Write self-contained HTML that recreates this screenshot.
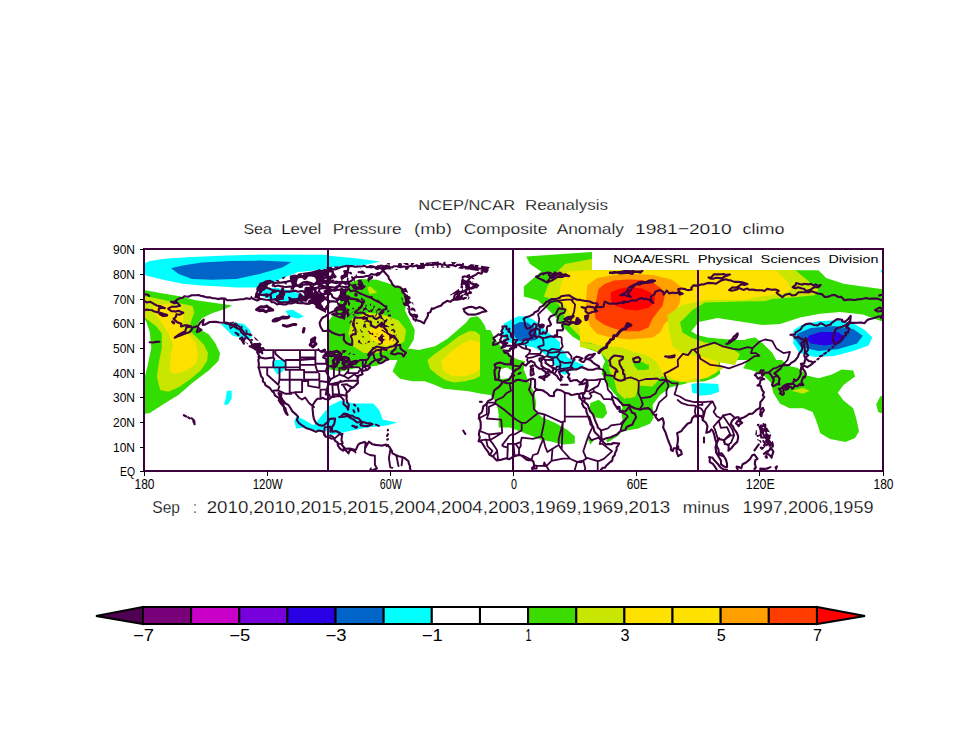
<!DOCTYPE html><html><head><meta charset="utf-8"><style>html,body{margin:0;padding:0;background:#fff;width:960px;height:742px;overflow:hidden}svg{display:block}text{font-family:"Liberation Sans",sans-serif;fill:#000}text.e{stroke:#fff;stroke-width:0.25px}</style></head><body>
<svg width="960" height="742" viewBox="0 0 960 742">
<rect width="960" height="742" fill="#fff"/>
<clipPath id="mc"><rect x="144" y="249" width="739" height="222"/></clipPath><g clip-path="url(#mc)">
<polygon points="144.0,263.5 149.8,260.9 167.1,258.6 192.2,257.1 221.1,255.7 251.9,254.8 278.9,254.4 307.8,254.8 329.0,254.8 329.0,255.7 357.9,258.6 380.1,261.5 367.5,264.4 348.3,266.3 329.0,267.3 329.0,268.3 317.4,270.2 298.2,272.1 278.9,279.8 267.3,285.6 255.8,287.5 236.5,287.5 221.1,286.6 201.8,285.6 182.5,283.7 163.3,279.8 144.0,275.0" fill="#00ffff"/>
<polygon points="171.0,268.3 182.5,265.4 201.8,262.5 230.7,260.9 259.6,260.6 291.4,262.1 282.8,267.3 259.6,274.1 236.5,278.9 211.5,279.8 192.2,278.9 178.7,274.1" fill="#0064c8"/>
<polygon points="257.7,290.4 275.0,287.5 290.5,290.4 304.0,295.3 302.0,302.0 286.6,303.0 269.3,299.1 259.6,295.3" fill="#00ffff"/>
<polygon points="285.6,310.7 292.4,309.7 304.0,316.5 298.2,318.4 288.5,316.5" fill="#00ffff"/>
<polygon points="221.1,324.2 234.6,322.2 244.2,324.2 250.0,329.9 251.9,337.6 246.1,339.6 240.4,337.6 232.6,335.7 226.9,329.9" fill="#00ffff"/>
<polygon points="275.0,360.0 282.8,360.0 285.6,365.8 282.8,371.6 277.0,374.5 273.1,367.7" fill="#00ffff"/>
<polygon points="226.9,390.8 231.7,390.8 231.7,398.5 227.8,404.7 224.0,404.7 225.9,397.6" fill="#00ffff"/>
<polygon points="296.2,415.9 304.0,419.7 313.6,425.5 321.3,415.9 326.1,410.1 329.0,410.1 329.0,431.3 317.4,431.3 305.9,427.5 296.2,428.4 294.3,421.7" fill="#00ffff"/>
<polygon points="144.0,290.0 160.2,292.9 179.6,296.2 195.8,300.2 213.6,302.7 232.2,305.6 224.9,309.1 212.0,313.2 202.3,318.0 197.4,324.5 199.8,329.4 208.7,334.2 215.2,343.1 220.1,353.6 218.4,360.9 208.7,370.6 192.2,383.1 178.7,394.7 163.3,404.3 149.8,413.0 144.0,414.0 144.0,380.3 148.0,364.1 151.3,348.0 149.7,331.8 146.4,322.1 144.0,318.0" fill="#33dd00"/>
<polygon points="144.0,296.2 153.7,297.8 168.3,301.0 184.5,304.3 192.5,305.9 194.2,312.4 190.9,322.1 189.3,330.2 195.8,336.6 203.9,344.7 207.9,352.8 207.1,360.9 200.6,370.6 190.9,378.7 179.6,386.8 168.3,391.7 160.2,390.0 156.9,377.1 158.6,364.1 161.8,348.0 161.8,333.4 156.9,326.9 150.5,322.1 144.0,317.2" fill="#c8e600"/>
<polygon points="153.7,304.3 168.3,304.3 179.6,306.7 184.5,312.4 182.8,322.1 181.2,326.9 187.7,333.4 195.8,343.1 198.2,354.4 195.8,364.1 186.1,370.6 174.7,373.9 169.9,370.6 170.7,356.1 173.1,344.7 168.3,333.4 160.2,320.5 153.7,312.4" fill="#ffe100"/>
<polygon points="350.2,282.7 359.8,278.9 377.2,279.8 392.6,284.7 402.2,289.5 406.1,299.1 405.1,310.7 409.9,320.3 414.8,329.9 413.8,339.6 408.0,349.2 404.2,360.0 386.8,360.0 377.2,365.8 357.9,367.7 340.6,371.6 329.0,369.6 329.0,333.8 329.0,320.3 336.7,310.7 340.6,299.1 346.3,287.5" fill="#33dd00"/>
<polygon points="352.1,318.4 367.5,312.6 383.0,314.5 398.4,320.3 406.1,329.9 404.2,341.5 392.6,349.2 377.2,353.1 363.7,353.1 352.1,345.4 348.3,333.8" fill="#c8e600"/>
<polygon points="367.5,287.5 370.4,286.6 377.2,292.4 369.5,294.3" fill="#c8e600"/>
<polygon points="367.5,329.9 379.1,326.1 388.7,329.9 395.5,336.7 394.5,343.4 386.8,345.4 379.1,343.4 371.4,339.6" fill="#ffe100"/>
<polygon points="400.0,351.2 410.0,348.8 418.8,350.0 435.0,346.2 447.5,338.8 456.2,331.2 466.2,322.5 470.0,317.5 477.5,316.2 481.2,320.0 485.0,326.2 487.5,335.0 492.5,345.0 500.0,352.5 508.8,357.5 520.0,360.0 525.0,361.2 514.0,427.5 498.6,427.5 498.6,414.0 496.7,402.4 492.8,394.7 490.0,395.0 481.2,393.8 468.8,391.2 456.2,390.0 443.8,388.8 435.0,385.0 425.0,381.2 412.5,381.2 400.0,378.8 392.6,371.6 397.4,360.0 396.0,351.0" fill="#33dd00"/>
<polygon points="427.5,360.0 435.0,353.8 447.5,345.0 458.8,336.2 468.8,331.2 475.0,331.2 485.0,338.8 492.5,350.0 493.8,358.8 490.0,367.5 485.0,373.8 475.0,378.8 465.0,381.2 453.8,382.5 445.0,380.0 437.5,375.0 430.0,368.8" fill="#c8e600"/>
<polygon points="441.2,361.2 450.0,352.5 460.0,345.0 470.0,340.0 477.5,341.2 485.0,347.5 487.5,356.2 483.8,366.2 475.0,372.5 465.0,376.2 452.5,376.2 443.8,371.2" fill="#ffe100"/>
<polygon points="506.3,322.2 514.0,320.3 514.0,337.6 508.2,335.7 504.4,329.9" fill="#00ffff"/>
<polygon points="329.0,406.3 340.6,400.5 354.1,403.4 373.3,403.4 379.1,410.1 383.0,419.7 397.4,422.6 386.8,425.5 367.5,427.5 348.3,431.3 340.6,433.2 329.0,435.2" fill="#00ffff"/>
<polygon points="480.0,330.0 490.4,330.0 494.6,338.3 502.9,348.8 513.3,357.1 519.6,361.2 523.8,369.6 527.9,380.0 534.2,392.5 536.2,402.9 535.2,411.2 542.5,417.5 555.0,422.7 567.5,430.0 574.8,436.2 574.8,443.5 563.3,444.6 550.8,441.5 540.4,439.4 530.0,435.2 521.7,432.1 511.2,427.9 500.8,421.7 498.8,411.2 496.7,402.9 490.4,394.6 480.0,392.5" fill="#33dd00"/>
<polygon points="498.8,369.6 507.1,367.5 513.3,371.7 511.2,377.9 500.8,379.0" fill="#ffffff"/>
<polygon points="526.2,256.5 591.2,252.0 720.0,252.0 720.0,419.0 720.0,419.0 652.9,417.5 638.3,409.2 623.8,402.9 613.3,392.5 605.0,382.1 601.9,371.7 605.0,361.2 600.0,351.5 585.0,344.0 572.5,336.5 562.5,326.5 555.0,316.5 547.5,309.0 537.5,300.2 523.8,296.5 523.8,286.5 532.5,279.0 541.2,271.5 530.0,264.0" fill="#33dd00"/>
<polygon points="699.0,270.2 818.5,270.2 826.2,277.9 843.5,283.7 862.8,286.6 884.0,289.5 884.0,360.0 699.0,360.0" fill="#33dd00"/>
<polygon points="580.0,346.3 590.8,349.7 601.6,353.7 607.0,359.1 602.9,365.8 601.6,373.9 605.6,379.3 611.0,387.4 616.4,395.5 620.4,403.6 624.5,411.7 627.2,420.0 647.4,420.0 650.1,414.4 655.5,403.6 660.9,395.5 666.3,392.8 671.7,395.5 677.1,392.8 681.1,380.7 700.0,379.3 700.0,320.0 580.0,320.0" fill="#33dd00"/>
<polygon points="565.0,264.0 591.2,259.0 795.4,270.2 806.9,279.8 818.5,289.5 814.6,295.3 795.4,297.2 772.2,299.1 751.0,304.9 737.5,310.7 718.3,310.7 699.0,312.6 720.0,366.5 724.1,367.7 714.4,373.5 699.0,377.3 697.5,389.0 666.2,371.6 660.5,377.3 648.9,379.3 639.3,385.1 635.4,396.6 629.6,398.5 623.8,392.8 616.1,381.2 614.2,369.6 618.1,360.0 615.0,354.0 605.0,349.0 592.5,344.0 580.0,336.5 570.0,326.5 565.0,319.0 562.5,309.0 555.0,300.2 543.8,296.5 547.5,286.5 555.0,274.0" fill="#c8e600"/>
<polygon points="567.5,271.5 591.2,270.2 776.1,270.2 787.6,281.8 791.5,289.5 783.8,293.3 756.8,297.2 737.5,301.0 718.3,304.9 699.0,306.8 695.0,310.0 682.5,320.0 675.0,330.0 672.5,342.5 682.5,350.0 695.0,350.0 707.5,360.0 717.5,362.5 715.0,372.5 705.0,375.0 695.0,376.2 682.5,377.5 670.0,380.0 660.0,375.0 650.0,372.5 642.5,367.5 637.5,360.0 627.5,352.5 615.0,350.0 600.0,350.0 590.0,336.5 580.0,329.0 572.5,319.0 567.5,309.0 560.0,299.0 560.0,289.0 562.5,279.0" fill="#ffe100"/>
<polygon points="580.0,341.6 593.5,344.3 608.3,346.3 620.4,347.0 631.2,351.0 644.7,354.4 655.5,360.4 660.9,369.9 666.3,375.3 674.4,378.0 685.2,378.0 700.0,373.9 700.0,381.3 681.7,381.2 669.1,380.1 662.9,375.0 658.7,380.1 652.5,386.5 638.9,385.4 631.6,385.4 629.6,396.9 624.4,399.0 617.1,391.7 614.0,379.2 609.7,371.2 608.3,360.4 601.6,353.7 590.8,349.0 580.0,347.0" fill="#c8e600"/>
<polygon points="580.0,325.4 580.0,341.6 593.5,343.6 607.0,344.9 620.4,344.3 633.9,347.0 644.2,351.7 654.6,357.1 658.7,364.5 662.9,373.9 667.6,376.0 677.1,376.6 687.9,376.0 700.0,371.2 700.0,342.9 686.5,340.2 674.4,337.5 666.3,333.5 663.6,325.4 660.9,320.0 593.5,320.0" fill="#ffe100"/>
<polygon points="627.2,355.1 638.0,353.0 647.4,356.4 651.5,364.5 647.4,371.2 639.3,373.9 629.9,369.9 625.8,361.8" fill="#c8e600"/>
<polygon points="633.9,360.4 642.0,361.8 648.8,365.8 646.1,369.9 638.0,369.9 633.9,365.8" fill="#33dd00"/>
<polygon points="697.5,350.0 712.5,352.5 718.8,362.5 716.2,372.5 707.5,377.5 697.5,380.0 695.0,375.0" fill="#ffe100"/>
<polygon points="699.0,360.0 699.0,375.4 695.2,378.3 681.7,382.2 672.0,379.3 668.2,369.6 664.3,360.0" fill="#ffe100"/>
<polygon points="587.2,285.6 596.9,277.9 614.2,275.0 633.5,274.1 652.8,275.0 672.0,279.8 681.7,287.5 679.7,303.0 672.0,316.5 664.3,324.2 660.5,331.9 652.8,337.6 629.6,339.6 610.4,337.6 596.9,333.8 590.1,326.1 585.3,312.6 586.3,297.2" fill="#ffa000"/>
<polygon points="598.5,288.9 604.2,284.2 613.6,280.4 627.7,279.4 641.9,279.9 654.2,283.2 661.7,288.9 664.5,296.4 662.6,305.8 657.9,311.5 652.3,319.1 648.5,327.5 639.1,331.3 625.8,331.3 613.6,328.5 604.2,324.7 595.7,319.1 594.2,310.6 596.6,298.3" fill="#ff3c00"/>
<polygon points="610.8,292.6 618.3,288.9 629.6,287.0 641.9,288.4 650.4,292.6 655.1,297.4 654.2,303.0 648.5,307.7 637.2,310.6 625.8,309.6 616.4,305.8 610.8,300.2" fill="#ff0000"/>
<polygon points="667.5,315.0 682.5,305.0 705.0,300.0 755.0,300.0 750.0,310.0 720.0,315.0 705.0,322.5 698.8,332.5 707.5,340.0 725.0,345.0 740.0,353.8 735.0,365.0 720.0,362.5 705.0,357.5 682.5,353.8 672.5,346.2 668.8,330.0" fill="#c8e600"/>
<polygon points="680.0,322.5 692.5,310.0 705.0,302.5 750.0,301.2 840.0,301.2 840.0,312.0 862.8,314.5 884.0,322.2 884.0,395.0 884.0,375.0 740.0,375.0 747.5,360.0 735.0,350.0 720.0,345.0 705.0,342.5 691.2,337.5 682.5,332.5" fill="#33dd00"/>
<polygon points="691.2,331.2 698.8,322.0 717.5,318.0 740.0,321.5 762.5,325.0 780.0,324.0 800.0,317.5 820.0,313.8 840.0,312.0 862.8,314.5 884.0,322.2 884.0,380.0 853.2,370.6 841.6,369.6 832.0,374.5 818.5,378.3 806.9,375.4 803.1,371.6 797.3,367.7 787.6,365.8 781.9,360.0 776.1,360.0 772.2,353.1 762.6,343.4 754.9,337.6 745.3,339.6 747.5,340.0 735.0,340.0 720.0,338.8 707.5,337.5 697.5,335.0" fill="#ffffff"/>
<polygon points="600.0,471.0 600.0,440.0 610.0,440.0 627.5,430.0 650.0,425.0 653.8,415.0 652.5,405.0 660.0,395.0 670.0,387.5 680.0,385.0 690.0,382.5 705.0,381.2 715.0,377.5 725.0,370.0 735.0,366.2 753.0,370.6 781.9,360.0 884.0,360.0 884.0,471.0" fill="#ffffff"/>
<polygon points="590.4,402.9 598.8,399.8 605.0,405.0 607.1,413.3 602.9,418.5 595.6,417.5 589.4,411.2" fill="#33dd00"/>
<polygon points="587.3,438.3 594.6,439.4 590.4,444.6" fill="#33dd00"/>
<polygon points="621.2,409.0 628.8,405.0 642.5,408.8 653.8,417.5 650.0,423.8 637.5,428.8 622.5,431.2 617.5,436.2 607.5,442.5 606.2,440.0 615.4,434.2 621.2,430.0 622.5,420.0" fill="#33dd00"/>
<polygon points="635.4,363.9 648.9,364.8 648.9,369.6 637.3,369.6" fill="#33dd00"/>
<polygon points="691.3,384.1 697.1,383.1 697.1,393.7 692.3,392.8" fill="#00ffff"/>
<polygon points="880.2,265.4 884.0,264.4 884.0,276.0 881.1,272.1" fill="#00ffff"/>
<polygon points="699.0,383.1 718.3,384.1 719.2,391.8 710.6,394.7 699.0,395.7" fill="#00ffff"/>
<polygon points="793.4,329.9 803.1,324.2 818.5,321.3 837.8,320.3 853.2,323.2 864.7,329.9 872.4,337.6 868.6,345.4 853.2,351.1 833.9,356.0 814.6,356.9 799.2,353.1 793.4,343.4" fill="#00ffff"/>
<polygon points="797.3,333.8 810.8,328.0 833.9,326.1 853.2,329.0 862.8,335.7 857.0,343.4 837.8,349.2 818.5,351.1 801.1,347.3 795.4,339.6" fill="#0064c8"/>
<polygon points="808.8,335.7 820.4,331.9 837.8,331.9 845.5,337.6 839.7,343.4 824.3,345.4 810.8,343.4 806.9,339.6" fill="#2800e6"/>
<polygon points="745.3,339.6 754.9,337.6 762.6,343.4 772.2,353.1 776.1,360.0 781.9,360.0 787.6,365.8 797.3,367.7 803.1,371.6 806.9,375.4 818.5,378.3 832.0,374.5 841.6,369.6 853.2,370.6 855.1,376.4 843.5,385.1 837.8,392.8 843.5,400.5 853.2,408.2 856.1,417.8 859.0,431.3 855.1,438.0 845.5,441.9 830.0,439.0 820.4,433.2 816.6,421.7 812.7,412.0 803.1,408.2 789.6,408.2 779.9,403.4 773.2,392.8 771.3,383.1 762.6,374.5 753.0,370.6 751.0,363.9 753.0,360.0 743.3,360.0 745.3,349.2" fill="#33dd00"/>
<polygon points="791.5,390.8 803.1,387.9 809.8,390.8 803.1,393.7" fill="#c8e600"/>
<polygon points="880.2,396.6 884.0,394.7 884.0,414.0 878.2,412.0 876.3,404.3" fill="#33dd00"/>
<polygon points="503.8,323.8 512.5,318.8 518.8,316.2 526.2,316.2 533.8,320.0 540.0,325.0 546.2,331.2 555.0,337.5 560.0,342.5 560.0,347.5 565.0,352.5 567.5,357.5 577.5,362.5 583.8,365.0 582.5,368.8 571.2,370.0 565.0,375.0 560.0,372.5 555.0,365.0 550.0,358.8 542.5,352.5 533.8,347.5 527.5,346.2 520.0,345.0 513.8,343.8 506.2,341.2 502.5,335.0" fill="#00ffff"/>
<polygon points="513.8,325.0 520.0,321.9 527.5,322.5 533.8,327.5 537.5,335.0 536.2,340.0 527.5,341.2 520.0,341.2 515.0,337.5 513.1,331.2" fill="#0064c8"/>
<path d="M252.2 297.5 251.8 295.8 250.0 297.0Z M266.2 293.2 265.2 294.5 265.0 296.0 265.8 297.8 267.2 297.8 268.2 296.8 268.8 294.5 267.8 293.2Z M283.5 287.2 282.5 287.2 281.5 288.0 281.0 289.8 279.5 291.8 278.5 294.5 276.2 295.8 276.0 297.8 275.2 298.8 274.0 299.5 275.5 301.2 278.5 301.5 279.8 300.0 283.2 299.8 284.2 299.0 283.8 297.0 285.2 294.8 285.2 293.2 284.0 291.0 284.2 288.2Z M305.8 283.2 305.5 284.5 307.0 285.2 307.5 284.8 307.2 283.8Z M284.0 282.8 284.0 283.2 285.8 284.5 287.2 284.2 287.0 283.5 285.8 283.2 284.8 282.5Z M276.5 280.0 276.0 280.5 276.2 281.0 278.0 281.8 279.5 283.8 279.8 282.2 279.0 280.5 278.2 280.0Z M270.8 280.0 265.8 281.0 265.5 282.5 265.0 283.0 263.8 283.0 262.8 282.0 259.8 282.8 256.2 289.5 257.8 290.2 259.0 291.5 259.2 292.5 258.2 293.2 255.5 293.2 254.2 298.0 260.8 299.5 259.8 296.8 260.0 295.0 261.5 293.2 262.5 291.2 265.0 290.0 266.8 288.2 268.2 284.2 271.0 281.0Z M286.0 276.5 281.8 277.5 282.2 278.5 283.5 279.2Z M333.0 272.2 331.5 274.0 331.2 275.2 333.8 278.2 334.8 278.5 336.2 277.8 336.8 276.2 334.8 274.2 333.8 272.2Z M332.2 269.2 332.0 266.8 326.0 267.5 327.5 269.8 328.5 270.5Z M333.8 266.8 334.5 267.8 338.2 269.0 339.0 268.8 338.5 266.2Z M350.0 265.5 347.2 265.8 347.0 269.5 346.5 270.0 343.8 270.2 343.0 271.0 343.8 272.8 343.8 274.0 343.2 274.8 341.2 275.2 340.5 276.2 340.5 278.2 341.5 280.5 338.5 283.0 338.0 285.8 337.2 286.5 335.8 287.0 335.2 288.0 333.5 288.8 332.0 288.8 330.5 288.0 329.0 286.5 328.8 285.0 329.2 284.0 331.5 281.8 334.0 281.2 334.5 280.8 334.2 279.8 332.8 279.5 330.2 281.0 328.5 281.0 325.0 279.8 323.5 278.2 323.5 277.5 324.8 276.2 326.2 275.8 327.2 274.8 327.2 270.8 326.0 270.0 324.8 270.2 323.5 272.0 322.5 272.2 321.5 271.5 320.2 269.0 311.8 271.5 298.5 273.5 297.2 275.0 294.2 274.5 289.8 275.8 289.8 279.0 290.2 279.8 292.2 280.8 292.2 281.8 291.2 283.0 292.0 286.8 290.2 289.0 290.8 289.8 294.0 289.8 294.2 288.0 295.5 286.8 297.5 286.8 299.8 288.2 302.0 287.8 303.2 287.0 303.2 284.2 302.2 283.2 300.8 283.2 299.0 284.2 297.8 284.2 297.0 283.8 296.8 282.5 297.8 279.2 298.8 278.2 302.0 278.0 303.8 279.8 305.0 280.0 305.8 279.8 307.2 278.2 308.0 276.8 311.2 276.5 314.0 277.0 315.5 278.5 316.2 280.8 313.0 285.2 310.5 285.8 309.2 287.0 306.2 286.8 304.5 287.8 304.5 289.5 306.5 291.2 306.8 292.5 304.0 296.0 303.5 296.0 301.0 293.2 299.5 293.0 298.5 294.8 298.2 297.0 297.2 298.0 292.2 298.2 288.8 296.5 288.2 297.0 288.2 298.0 289.2 300.2 289.5 302.5 292.0 302.8 292.8 301.8 294.0 301.8 295.2 303.0 302.5 303.8 301.0 303.0 299.2 303.0 298.5 302.2 298.5 301.5 299.5 300.2 301.0 300.0 304.2 300.8 305.5 301.5 307.0 301.5 307.5 300.0 308.8 298.8 312.5 298.8 313.0 299.2 313.0 300.2 311.8 301.8 308.2 302.0 307.8 302.5 308.8 304.5 310.0 304.8 311.2 304.0 313.2 304.0 315.2 305.5 315.5 307.8 326.0 313.0 326.2 310.0 328.5 308.8 329.2 307.5 329.2 303.8 330.5 302.2 330.5 301.0 330.0 300.2 328.5 299.5 327.5 299.5 327.2 300.8 328.0 302.5 328.0 303.5 325.5 306.2 325.2 307.5 324.5 308.2 323.2 307.2 323.0 306.0 321.5 304.5 321.2 303.0 324.2 300.8 324.5 300.0 326.5 298.2 327.8 296.5 329.2 295.8 330.5 294.5 331.0 293.5 331.0 292.2 331.8 291.0 332.8 290.8 333.8 291.8 335.8 291.5 337.0 290.5 338.2 287.8 340.8 285.5 342.0 283.8 343.0 283.5 345.8 285.5 345.8 287.0 344.2 289.0 341.2 289.2 340.5 289.8 339.8 292.0 339.8 294.2 338.5 296.0 338.0 298.8 336.0 300.8 338.0 306.5 339.0 307.8 341.0 308.5 342.0 309.5 342.5 310.5 342.5 312.0 340.2 316.2 337.8 315.8 337.0 315.0 336.8 313.2 335.2 312.2 333.8 312.5 331.2 313.8 330.5 314.8 340.2 318.5 341.8 318.5 344.8 320.0 345.2 319.0 346.5 308.0 345.5 306.8 345.2 305.5 345.8 304.5 347.0 303.8 346.0 289.2 347.0 282.0 346.0 281.0 343.0 281.0 342.2 280.0 344.5 278.2 347.0 277.0 347.8 277.0Z M343.2 298.8 344.5 300.0 344.5 302.0 343.0 304.0 341.2 304.2 338.2 302.5 338.0 301.5 338.8 300.5 341.8 298.8Z M314.0 286.0 316.2 285.0 317.8 283.8 320.2 282.8 324.2 282.8 325.5 284.0 326.5 289.0 325.2 290.0 323.8 290.2 323.5 291.8 324.5 293.0 326.0 293.5 326.8 294.2 326.8 296.2 326.0 296.8 324.8 296.5 323.0 294.8 319.8 293.8 318.2 292.5 317.2 291.0 316.0 291.0 313.8 293.0 313.0 293.0 312.8 290.0Z M302.2 273.5 303.2 274.2 302.8 275.0 302.0 275.0 301.5 274.5Z" fill="#3f003f" fill-rule="evenodd"/>
<path d="M346.8 308.2 347.0 318.0 353.5 311.5 352.8 311.5 350.2 314.5 349.2 314.5 347.5 313.2 347.5 312.5 349.5 310.2 349.5 309.5Z M346.2 295.2 346.5 301.8 348.0 302.8 348.8 304.2 349.5 304.2 349.8 303.0 348.8 300.5 349.8 299.2 350.5 299.0 351.0 297.5 348.8 295.2Z M355.5 292.5 354.5 293.2 354.2 295.0 354.8 296.2 356.2 296.8 357.5 296.0 357.8 294.8 357.2 293.8Z M346.0 289.8 346.0 291.8 348.0 291.0 348.0 290.5 347.2 289.8Z M347.0 277.2 346.5 284.5 351.2 285.8 352.0 286.5 352.5 288.0 353.8 289.2 355.8 290.2 359.0 289.8 362.0 290.0 364.8 287.8 366.2 285.8 364.5 285.8 363.8 285.0 361.2 279.8 358.5 279.8 357.5 280.5 358.2 282.0 358.2 283.0 357.5 284.0 357.5 284.8 358.5 285.8 358.0 286.8 356.5 286.0 356.5 284.5 355.0 283.5 353.0 284.5 350.5 284.2 348.8 283.0 348.5 278.2 348.0 277.5Z M373.0 275.8 369.2 276.5 367.5 278.2 367.5 280.2 368.2 282.8 369.8 280.2 372.0 279.0 373.0 277.8Z M357.0 274.2 355.8 274.8 355.5 276.5 354.8 277.0 353.5 277.0 352.0 276.0 351.2 276.2 351.2 278.0 353.5 280.2 354.8 282.2 354.8 279.8 355.5 276.8 357.0 275.8Z M380.2 272.5 377.5 272.2 376.0 273.2 375.8 275.2 376.5 276.8 379.8 275.2 380.8 274.2Z M347.5 272.0 347.2 274.0 348.0 273.2 348.8 273.2 351.2 274.8 352.2 273.5 352.0 272.8 350.8 271.8Z M365.5 273.2 364.2 271.5 362.0 270.2 360.2 271.2 358.5 271.0 357.5 271.8 357.8 273.2 359.5 273.0 361.2 273.8 365.0 274.0Z M386.2 267.8 386.5 268.2 387.0 268.0Z M360.2 267.8 360.2 268.2 361.2 268.8 361.0 268.0Z M382.2 267.2 382.5 268.0 383.5 268.8 385.8 267.8Z M356.2 265.8 357.2 266.2 358.0 265.5Z M368.8 265.0 368.8 266.5 369.8 268.2 371.0 268.5 374.2 267.8 375.8 269.8 378.5 270.0 380.0 267.0 377.8 266.2 376.5 266.2 375.8 267.0 375.0 267.0 374.5 266.5 374.5 265.8Z" fill="#3f003f" fill-rule="evenodd"/>
<path d="M411.2 269.5 412.8 269.2 411.5 269.0Z M395.2 269.8 399.5 270.0 398.2 270.0 396.8 269.0 395.8 269.0Z M434.0 267.2 433.0 267.0 432.0 268.0 434.0 268.0Z M405.0 269.2 405.2 269.8 407.5 269.8 408.2 269.2 409.0 267.5 408.5 267.0 407.0 267.5 405.5 267.0Z M440.8 266.8 441.0 267.5 450.8 268.0 450.0 267.5 449.2 266.0 447.8 266.0 445.5 267.5 444.8 267.5 442.5 266.0 441.5 266.0Z M479.8 271.2 486.0 272.0 490.0 267.0 481.0 265.8 481.0 268.2 481.5 270.0Z M378.0 265.5 378.0 269.0 382.2 269.2 381.5 269.0 378.5 265.5Z M464.2 268.8 464.8 269.2 469.2 269.8 469.8 269.2 470.8 270.0 478.2 271.0 478.8 270.8 478.8 269.0 477.8 267.0 479.0 265.2 470.0 264.0 470.5 264.8 468.5 265.8 468.5 267.0 467.8 267.8 465.5 267.8Z M473.0 267.5 473.5 268.0 473.0 268.8 472.5 268.2Z M474.5 264.8 474.8 265.8 474.0 266.5 473.8 265.2Z M463.8 263.0 462.5 263.0 461.8 264.0 460.2 264.0 459.5 263.2 460.2 264.2 460.5 266.2 458.5 267.8 458.5 268.5 463.0 269.0 463.5 268.8 463.2 266.2 464.0 265.0Z M410.8 264.5 411.2 265.5 412.5 265.8 414.2 263.5 414.2 263.0 410.8 263.0Z M402.8 263.0 406.0 265.0 407.5 265.5 408.5 265.5 408.8 265.0 408.2 263.0Z M398.5 263.0 397.8 265.2 397.8 267.2 398.2 267.8 401.2 267.2 402.2 266.0 401.8 264.8 401.8 263.2Z M383.0 269.2 391.5 269.5 390.2 267.8 390.2 266.0 389.5 265.0 390.0 263.0 386.5 263.0 388.8 264.8 389.2 266.2 389.0 267.8 386.8 267.8 385.8 266.8 385.2 265.5 384.8 265.5 384.2 268.2 383.5 269.2Z M424.0 262.8 419.8 263.0 420.5 265.2 419.2 266.2 418.5 266.2 417.5 264.5 415.8 264.5 415.2 265.5 416.8 267.5 417.2 269.2 424.2 268.8 425.2 266.8 424.0 264.5Z M451.2 265.0 452.0 265.8 453.0 265.8 454.5 264.0 457.0 262.2 450.8 262.0 452.2 263.5Z M443.8 261.8 442.5 264.2 443.0 265.0 445.0 265.5 445.5 265.0 445.2 263.0 445.8 261.8Z M438.8 267.0 438.2 265.8 438.2 264.8 439.0 263.5 438.8 261.5 425.5 262.8 425.5 264.0 427.2 266.2 428.0 266.2 429.0 265.5 429.2 264.0 429.8 263.5 431.2 263.2 432.8 264.2 433.2 264.2 434.0 263.5 434.8 263.5 435.5 264.8 436.8 265.2 437.0 267.8 438.2 267.8Z" fill="#3f003f" fill-rule="evenodd"/>
<path d="M452.0 301.0 454.5 300.8 452.8 300.5Z M479.5 285.2 476.5 283.0 474.0 283.2 473.2 282.5 473.2 281.8 472.2 281.5 472.0 282.0 473.5 283.0 473.2 284.2 472.2 286.2 471.2 287.0 470.5 287.0 469.8 286.2 469.8 283.0 468.5 282.2 467.0 282.2 466.2 280.5 464.8 280.0 463.0 278.5 465.0 277.2 468.2 278.2 469.5 278.2 470.5 277.2 472.8 279.0 474.8 279.2 472.0 276.2 470.8 276.5 470.2 276.0 470.0 274.0 467.8 274.5 466.2 275.8 464.8 275.2 462.0 276.0 461.5 278.2 462.2 278.8 461.2 279.8 461.0 283.0 460.5 284.2 461.0 286.0 460.0 287.2 462.2 288.8 461.8 290.2 460.8 291.0 459.8 291.0 459.0 290.0 459.0 288.8 450.2 294.8 450.0 295.2 450.8 295.5 452.8 294.2 455.0 293.5 456.8 294.0 457.2 295.0 455.5 296.8 455.2 298.0 457.8 300.0 458.8 300.0 460.0 299.0 461.5 299.0 463.2 295.8 464.0 295.0 466.2 295.5 468.5 297.0 467.5 300.0 468.0 300.0 470.2 296.8 469.5 297.2 468.8 297.0 468.5 294.5 469.2 294.0 471.2 294.2 472.2 292.5 471.2 291.2 470.2 291.0 469.5 290.0 470.5 289.2 472.5 289.2 474.2 288.0 477.0 288.5Z M468.8 290.2 468.8 291.8 468.0 292.5 467.5 292.5 467.0 292.0 467.0 290.8 467.5 290.2Z M464.5 284.8 465.2 285.5 465.2 287.8 465.8 288.8 465.5 289.8 464.5 290.8 464.5 293.5 463.8 294.5 461.8 294.5 460.0 296.0 460.0 294.8 461.8 293.8 463.2 290.2 462.5 288.2 463.2 287.5 463.2 286.5 462.5 285.5 463.2 284.8Z" fill="#3f003f" fill-rule="evenodd"/>
<path d="M411.2 313.2 410.8 313.5 410.5 316.0 413.2 315.5 415.8 319.0 414.8 321.2 415.0 322.2 417.8 320.0 416.8 319.0 416.8 318.5 418.0 317.2 418.2 315.5 417.0 313.5 416.5 314.5 414.5 313.5 412.8 314.0Z M406.8 308.2 407.2 309.2 409.0 310.0 408.0 308.2Z M410.2 309.5 411.5 310.5 413.5 310.5 414.5 311.5 415.8 311.5 415.0 308.8 412.8 307.5 411.8 307.5Z M401.2 297.2 403.2 304.8 405.0 306.2 407.0 306.0 409.8 303.5 412.0 303.0 412.5 304.0 413.8 305.0 412.8 302.0 412.5 302.5 411.5 302.5 409.5 300.5 409.5 299.5 410.8 298.2 410.2 296.5 408.5 296.0 407.2 294.2 406.2 294.5 406.2 295.2 405.5 296.2 404.2 295.0 403.8 295.0 404.5 298.2 405.5 300.2 405.8 301.8 405.2 302.5 403.8 302.5 402.5 301.8 402.8 298.5Z M401.2 289.0 401.0 290.2 403.5 292.5 406.2 292.0 407.2 292.8 408.2 292.8 406.0 288.0 405.2 287.8 403.5 288.5 402.2 288.2Z M398.0 286.0 398.5 287.8 400.8 287.8 401.2 287.2 401.2 286.8Z" fill="#3f003f" fill-rule="evenodd"/>
<path d="M544.2 278.2 543.0 280.8 544.2 280.5Z M566.5 275.8 565.5 275.2 563.0 275.5 562.2 274.5 561.2 274.0 561.8 272.0 558.5 271.5 558.2 272.2 557.2 273.2 556.8 273.2 555.5 272.0 555.5 271.0 554.5 271.2 553.8 272.5 553.5 274.0 552.2 275.0 551.0 275.0 550.0 274.0 549.8 273.0 550.2 271.8 548.0 272.0 547.8 272.5 544.0 272.5 543.0 273.8 542.0 274.0 544.0 276.0 544.0 275.0 544.8 274.0 546.5 273.2 547.5 273.5 547.8 275.8 549.2 276.5 549.0 278.2 546.8 280.5 546.2 281.5 547.5 282.0 548.2 282.0 550.2 281.0 549.2 280.0 550.5 279.0 554.8 278.8 555.8 278.2 555.5 277.0 558.0 275.5 559.2 275.8 559.5 276.5 559.0 277.5Z" fill="#3f003f" fill-rule="evenodd"/>
<path d="M373.8 346.8 372.2 347.2 372.0 348.0 374.0 347.8Z M365.2 342.8 365.0 343.2 365.8 344.0 366.8 344.0 365.8 343.2 365.8 342.8Z M373.8 341.0 373.2 341.5 374.0 342.2 374.0 343.2 374.2 341.5Z M370.0 341.5 369.2 340.8 368.5 340.8 367.5 342.0 367.2 343.0 370.0 342.2Z M358.8 339.8 358.0 341.2 358.2 342.8 363.0 344.5 360.5 342.2 359.8 340.0Z M374.5 336.2 374.5 336.8 375.2 337.2 376.8 336.8 376.0 336.0Z M363.0 335.8 362.2 336.5 362.8 337.8 363.2 337.8 363.8 337.0 363.5 336.0Z M396.8 334.8 396.2 334.5 395.5 335.5 396.2 335.5Z M389.2 335.8 389.5 338.5 389.0 340.2 389.8 340.2 392.2 337.8 393.8 338.5 393.8 340.0 392.5 341.8 394.0 340.8 394.2 339.5 395.2 338.5 397.2 338.5 397.2 337.8 396.2 338.2 395.2 338.0 394.8 337.5 394.8 336.2 394.2 335.8 392.8 335.5 391.0 334.2 390.2 334.5Z M381.8 333.8 379.2 337.2 377.8 337.5 378.5 340.0 381.2 342.0 380.8 343.2 378.5 343.2 378.2 344.0 378.8 345.0 379.8 345.0 382.0 343.8 383.0 342.8 383.2 341.0 384.2 340.2 385.5 340.2 385.2 339.8 382.8 338.5 382.8 337.5 383.5 336.8 384.2 336.8 384.5 336.2 384.0 335.8 382.2 335.2 383.0 334.8 383.0 334.2 382.2 334.2Z M378.0 333.0 377.0 333.5 376.5 334.5 377.0 334.5Z M358.0 331.5 357.5 331.2 356.8 332.2 357.5 332.2Z M367.8 330.8 367.8 331.5 369.0 332.5 369.5 334.2 371.2 334.2 373.2 335.5 373.2 332.2 371.5 333.5 368.5 330.5Z M381.5 329.8 381.8 331.0 383.0 331.2 384.8 332.8 386.0 332.8 385.8 331.5 382.2 329.5Z M360.2 329.0 359.8 330.0 360.8 331.0 361.0 332.0 361.5 332.5 363.0 332.2 362.5 331.2 361.5 331.0 360.8 330.2 360.8 329.5Z M354.5 329.0 353.8 329.0 352.5 330.5 352.0 330.5 352.5 331.8 353.5 330.8 354.5 330.5Z M390.8 330.0 391.5 331.0 393.5 330.5 393.5 332.2 394.2 332.8 394.8 332.8 395.5 331.8 395.2 330.5 394.2 329.8 393.8 328.8Z M393.8 325.0 393.2 323.5 392.5 324.0 390.8 324.2 390.8 324.8 392.2 325.8Z M356.2 322.2 356.2 324.0 357.8 324.0 357.8 322.8Z M377.0 321.2 377.0 322.8 377.5 323.2 378.5 323.2 379.2 321.8 379.0 321.2Z M371.2 320.5 370.2 320.5 369.5 321.5 370.8 322.0 371.2 321.5Z M354.5 320.2 353.5 320.5 353.0 322.0 353.5 324.8 352.8 325.5 352.5 326.5 353.5 327.5 354.2 327.2 354.5 325.2 355.0 324.5 354.8 323.2 354.0 322.2 354.2 321.2 355.2 321.5 355.2 320.8Z M351.5 320.2 350.5 320.5 350.2 322.0 349.0 322.8 349.2 323.2 350.8 323.0 351.8 321.8Z M390.8 318.2 390.8 319.2 391.2 319.8 391.5 318.8Z M380.2 317.5 380.8 319.0 382.0 319.0 383.5 320.2 383.8 322.2 382.8 323.8 381.5 323.8 379.5 325.5 379.8 327.0 381.2 327.8 382.5 327.2 387.8 327.0 389.0 327.5 389.2 326.5 388.5 326.5 387.2 325.5 385.0 324.8 385.2 322.8 386.5 322.0 387.5 320.0 387.5 319.2 386.5 318.8 385.5 320.0 384.2 320.2 383.0 318.0 381.5 317.2Z M350.0 316.2 349.8 316.8 350.5 317.0 350.5 316.5Z M363.8 316.0 362.5 316.8 362.2 319.2 363.0 320.0 363.8 320.0 364.8 319.0 365.5 319.0 366.2 319.8 366.2 320.5 364.2 321.0 364.8 323.2 363.2 325.0 363.2 326.5 362.8 327.0 363.2 327.5 364.8 327.2 366.2 328.0 366.5 327.2 365.8 326.5 365.8 324.5 365.0 323.5 365.0 322.8 366.0 321.5 368.0 321.2 367.0 320.2 368.2 318.8 368.2 317.8 367.5 317.0 366.0 317.0 364.5 316.0Z M352.5 314.2 353.5 316.0 354.5 315.8 354.5 314.2Z M390.2 313.5 389.5 314.5 388.8 314.5 388.0 315.2 388.2 316.5 391.0 316.8Z M347.8 313.0 347.8 313.5 348.5 314.2 348.8 313.2Z M383.2 310.5 380.5 312.0 381.0 314.0 381.8 314.8 382.2 314.8 382.8 313.8 384.5 312.2 384.2 311.2Z M389.2 310.2 387.5 310.5 387.0 312.2 388.5 312.2 389.5 311.2Z M358.0 309.8 357.5 310.0 357.2 311.2 358.2 311.0Z M346.0 309.5 344.2 309.8 344.0 312.2 344.5 313.2 346.5 310.8Z M380.2 308.2 378.2 308.2 377.2 310.0 376.0 310.8 376.5 312.0 376.5 314.2 375.0 315.5 375.2 316.8 377.0 315.0 377.2 311.2 378.0 310.5 380.2 310.5 381.2 309.5Z M353.0 307.2 352.2 308.8 353.0 309.5 353.8 309.5 354.2 309.0 354.2 308.2Z M388.0 306.0 386.5 305.2 385.8 305.5 385.2 306.5 387.0 306.8Z M365.8 304.5 365.2 305.5 365.8 307.0 363.8 308.0 363.0 309.2 362.8 311.2 362.0 311.8 362.0 312.5 365.0 309.8 367.5 310.0 368.5 312.0 370.5 311.8 371.8 312.2 373.2 310.0 373.5 308.8 374.8 307.2 374.8 305.8 374.2 305.2 373.5 305.8 373.2 308.5 372.5 309.2 371.5 309.2 370.2 310.5 369.0 310.5 368.0 310.0 366.5 308.2 366.0 307.2 367.0 305.2 366.2 304.5Z M371.2 303.5 370.2 303.8 369.8 305.0 370.0 305.8 371.0 305.5Z M362.0 302.2 361.0 303.0 361.0 303.8 361.5 304.2 360.8 304.8 360.5 306.0 360.0 306.5 358.5 306.8 358.0 307.5 358.0 308.5 360.5 308.5 361.0 308.2 360.8 307.2 362.5 306.2 362.5 304.8 361.8 304.0Z M348.5 302.2 347.8 303.2 347.8 304.0 348.5 305.2 348.5 306.0 349.2 306.2 350.2 303.8 350.2 302.8 349.5 302.2Z M348.0 299.8 346.2 300.0 346.0 301.0 347.8 300.2Z M355.8 301.0 356.5 302.0 358.8 302.0 358.8 300.0 358.2 299.5 357.8 299.5Z M377.2 299.2 377.8 301.8 378.5 301.8 379.2 301.0 379.2 300.5Z M350.8 299.2 351.8 300.2 353.8 299.8 354.2 300.2 354.0 301.2 354.5 301.2 354.2 299.5 353.5 299.5 353.0 299.0Z M361.0 297.8 360.8 299.8 362.2 300.8 365.2 300.5 365.2 299.8 363.5 299.5 362.5 298.5 362.2 297.5Z M372.8 297.8 372.5 296.2 372.0 296.0 365.8 297.0 369.8 297.2 371.0 296.8Z" fill="#3f003f" fill-rule="evenodd"/>
<path d="M339.5 367.8 341.5 367.0 340.0 366.8Z M347.5 365.0 346.2 364.5 343.2 366.8 345.5 366.2Z M351.8 361.0 348.5 361.2 348.5 362.8 349.2 363.2 350.2 363.2 352.0 362.0Z M352.8 353.5 352.8 354.5 353.5 355.0 356.0 355.0Z M351.0 352.8 350.0 352.5 348.5 354.0 348.2 355.0 349.8 354.2Z M345.2 350.0 341.8 350.5 342.5 352.2 342.0 352.8 339.5 353.0 340.5 353.5 341.2 355.0 340.8 356.5 340.8 358.5 339.5 359.2 338.5 358.2 337.8 356.8 337.5 354.0 334.2 355.5 334.5 356.2 335.5 356.2 336.8 357.0 336.8 358.0 335.8 359.2 336.5 361.8 334.5 363.8 338.0 368.0 338.5 367.8 337.2 366.0 337.2 364.5 338.2 363.5 339.8 363.0 339.8 360.8 341.5 361.0 343.5 360.2 344.0 361.0 344.0 362.2 345.0 363.0 345.8 363.0 346.2 362.5 346.5 361.0 347.2 360.2 347.2 359.5 344.8 359.5 344.2 358.5 344.2 356.8 342.0 355.5 342.8 353.2 343.2 352.8 344.5 353.0 346.5 350.8Z" fill="#3f003f" fill-rule="evenodd"/>
<path d="M766.8 454.2 764.8 455.8 764.5 456.8 766.0 459.0 768.2 458.0Z M769.5 451.0 768.0 451.5 767.2 452.2 767.0 453.5 768.5 453.0Z M765.5 446.0 765.2 445.5 764.8 445.5 763.0 447.0 760.8 446.5 759.8 447.2 759.8 448.2 761.8 450.0 762.2 450.0 765.2 447.0Z M757.2 439.2 757.2 440.0 757.8 440.5 759.0 440.8 760.5 443.0 761.5 443.0 761.0 440.5 759.0 440.0 757.8 439.0Z M756.0 429.8 755.2 435.0 756.0 435.0 756.5 435.5 757.0 437.0 758.0 437.0 759.0 436.2 760.2 436.2 760.2 435.2 759.8 434.5 757.0 435.0 756.5 434.5 757.0 433.5 756.8 430.5Z M757.0 424.0 756.8 425.5 758.5 426.5 758.8 428.2 760.8 429.8 761.2 431.2 764.0 431.2 765.5 432.5 764.8 436.2 764.8 437.5 765.8 439.0 765.0 441.0 765.2 442.2 766.0 443.0 768.0 443.2 769.2 445.2 770.0 443.8 770.8 444.0 771.5 445.0 771.2 447.5 771.8 448.0 773.8 447.2 774.0 444.8 772.8 440.8 771.2 442.5 770.5 442.5 768.2 440.2 768.2 439.5 768.8 439.0 770.5 438.5 770.5 436.5 771.2 435.8 770.2 432.5 767.0 427.5 766.0 428.0 763.5 428.2 762.0 427.0 760.2 427.0 759.2 426.2 759.5 423.8Z M766.8 432.2 767.5 431.8 769.2 432.0 770.5 433.2 770.5 434.2 770.0 434.8 768.5 434.5 767.0 433.0Z M762.5 423.2 762.8 425.5 764.5 425.5 765.2 425.0 764.0 423.0Z" fill="#3f003f" fill-rule="evenodd"/>
<path d="M261.8 354.0 261.0 354.5 261.0 355.0Z M249.5 346.0 259.2 353.8 260.2 353.2 261.2 350.0 262.0 349.0 264.0 350.2 265.0 349.0 263.5 347.0 261.5 347.2 260.8 346.8 260.8 345.8 261.8 344.8 259.8 342.2 258.2 343.0 253.8 343.0 251.0 345.5Z M250.8 339.0 250.8 340.0 251.5 340.8 252.8 340.8 253.2 340.2 252.8 339.2 251.8 338.8Z M241.8 338.8 241.5 339.2 248.2 344.8 248.0 343.8 247.0 342.8 246.0 342.5 245.0 341.2 245.0 340.2 246.0 339.0 246.0 337.8 245.5 337.2 244.0 337.8 243.2 338.5Z M254.0 336.5 254.2 337.8 255.8 340.0 259.0 341.2 256.8 338.8Z M234.5 332.0 234.2 332.8 238.0 336.2 239.2 336.0 239.5 334.5 239.0 333.5 237.0 332.2 235.5 331.8Z M245.8 329.2 245.5 330.8 246.2 332.0 246.5 334.2 249.8 336.0 251.2 336.0 252.8 335.2 250.5 333.2 248.8 333.5 247.2 332.2 247.5 330.5Z M228.0 323.0 229.8 328.5 230.5 329.5 233.2 327.2 236.5 328.2 238.5 329.8 241.5 329.8 242.0 329.2 242.8 326.5 241.2 325.2 241.2 326.8 240.2 327.8 239.2 328.0 238.2 327.8 237.2 326.8 236.2 324.5 234.5 324.5 232.5 326.8 230.5 327.2 229.8 326.0 230.0 325.0 231.5 323.8 233.2 323.2 233.8 322.8 233.8 321.5Z" fill="#3f003f" fill-rule="evenodd"/>
<path d="M168.3 308.5 L172.0 306.6 L174.4 306.8 L176.0 306.7 L180.0 305.8 L177.0 302.4 L174.6 303.4 L171.0 301.7 L174.4 302.1 L176.7 299.9 L179.8 298.2 L182.7 297.7 L184.3 296.3 L188.3 296.7 L191.6 295.3 L195.6 295.3 L198.5 295.1 L200.6 295.8 L204.6 296.6 L206.6 297.4 L209.6 297.2 L213.0 298.2 L214.7 298.2 L218.0 299.1 L221.4 298.4 L225.0 298.6 L227.0 300.3 L229.5 300.3 L232.4 300.3 L236.9 299.7 L241.2 299.2 L244.0 299.1 L246.8 298.2 L249.9 298.9 L251.7 297.9 L253.5 299.0 L257.2 300.6 L260.6 298.8 L262.8 299.2 L265.7 299.7 L269.6 300.0 L271.8 302.3 L274.3 302.3 L277.2 304.5 L279.3 303.7 L283.0 304.5 L286.3 304.5 L288.3 303.1 L291.5 303.5 L295.5 302.2 L296.6 302.6 L299.5 303.2 L302.9 303.0 L304.5 303.4 L308.0 303.9 L313.2 301.7 L314.9 300.7 L317.8 298.7 L319.8 297.3 L321.3 294.5 L323.4 295.7 L324.9 298.6 L326.8 299.9 L330.2 301.4 L333.6 301.4 L336.0 301.8 L339.2 298.6 L341.7 300.2 L345.4 299.4 L345.7 304.2 L343.4 305.0 L341.8 308.0 L336.9 307.4 L334.1 311.1 L331.5 312.3 L329.4 312.9 L325.2 316.5 L323.7 316.9 L321.7 318.7 L319.6 322.7 L320.2 325.9 L321.1 327.7 L323.0 330.9 L326.2 331.0 L328.4 329.8 L332.5 332.8 L335.6 334.0 L339.7 335.3 L341.0 335.1 L343.9 334.4 L343.8 339.8 L346.0 342.7 L349.2 344.4 L352.2 344.9 L352.2 340.0 L350.8 336.0 L352.8 334.4 L355.7 334.2 L355.6 330.2 L354.7 327.8 L352.8 324.4 L353.6 321.6 L354.9 317.3 L357.4 317.8 L361.3 317.7 L365.6 318.4 L367.6 320.9 L371.1 322.3 L370.7 325.3 L375.7 327.8 L377.3 326.6 L382.1 322.6 L382.3 325.2 L383.4 327.0 L386.7 330.5 L387.3 333.2 L391.2 335.6 L394.1 335.7 L395.0 337.4 L398.0 341.7 L396.0 344.1 L393.2 346.3 L391.1 346.6 L387.9 347.7 L384.0 348.0 L380.6 347.4 L377.0 346.5 L372.8 349.0 L370.2 352.1 L368.8 353.4 L368.2 355.4 L370.5 353.1 L374.0 352.2 L376.2 350.3 L381.0 349.9 L380.6 353.1 L381.0 356.1 L384.4 356.7 L386.5 358.0 L388.3 359.6 L385.6 360.3 L383.1 362.1 L381.3 363.2 L379.5 363.2 L377.7 361.6 L381.8 358.5 L377.8 359.8 L375.1 360.0 L371.0 362.8 L369.3 365.0 L367.9 366.4 L370.1 367.4 L367.5 369.8 L363.6 370.8 L361.4 370.8 L362.6 374.2 L357.8 375.9 L357.5 379.4 L357.9 383.1 L355.9 384.9 L353.5 387.3 L350.4 388.5 L349.5 390.5 L346.4 393.0 L346.8 396.7 L346.4 398.4 L347.3 402.5 L348.8 404.9 L348.1 409.7 L346.8 406.9 L343.4 404.0 L343.7 399.9 L340.2 396.1 L337.3 395.9 L333.5 396.9 L332.1 396.6 L328.9 399.4 L324.8 399.0 L323.0 397.8 L320.6 398.8 L317.5 398.8 L315.5 400.7 L312.8 405.0 L312.5 408.1 L312.8 411.4 L313.3 416.3 L314.0 419.3 L316.1 423.2 L319.0 425.1 L322.5 425.7 L324.0 425.1 L328.6 421.4 L328.8 419.1 L332.8 418.6 L335.1 418.5 L334.3 423.9 L331.9 427.3 L332.2 431.8 L334.2 431.4 L336.1 431.0 L340.2 433.2 L342.0 435.8 L341.4 440.2 L342.6 443.0 L341.7 444.6 L343.7 447.0 L345.5 448.9 L349.8 448.5 L355.4 450.1 L356.0 449.7 L358.1 444.8 L359.6 443.6 L364.6 441.9 L366.1 443.9 L365.3 447.8 L366.9 444.9 L368.9 441.7 L372.5 444.3 L375.6 444.9 L378.5 445.2 L382.6 445.6 L386.0 444.5 L389.3 446.9 L391.8 450.8 L392.5 453.4 L396.2 455.2 L398.5 456.3 L399.9 456.5 L404.7 458.1 L408.4 461.3 L409.0 464.1 L410.2 466.5 L409.8 467.6 L410.9 471.0 M353.7 451.0 L351.6 449.5 L349.4 450.8 L348.5 453.4 L345.2 449.8 L342.7 450.5 L339.8 448.3 L337.9 445.5 L337.8 442.6 L334.8 440.6 L334.3 438.3 L331.3 438.7 L328.2 436.8 L325.6 436.8 L324.7 434.6 L322.9 431.4 L318.8 430.5 L315.9 431.9 L311.4 429.8 L307.3 428.6 L305.5 427.7 L301.4 424.9 L299.0 423.1 L296.9 420.2 L298.1 416.6 L296.2 414.6 L292.1 411.1 L291.4 409.5 L288.6 405.2 L285.5 403.3 L282.4 399.6 L281.0 397.0 L281.4 393.8 L278.5 393.1 L280.3 397.4 L281.4 401.5 L283.3 402.6 L283.6 406.4 L285.5 408.4 L285.9 411.0 L287.7 414.9 L286.1 413.5 L284.3 409.8 L283.8 406.8 L280.3 402.7 L278.7 400.5 L279.5 398.4 L275.1 395.6 L273.8 392.4 L272.3 391.5 L269.8 388.0 L265.4 385.2 L264.6 382.6 L263.0 381.6 L262.8 378.4 L261.0 376.1 L260.2 372.9 L259.2 369.2 L258.6 367.3 L258.9 364.4 L258.3 359.9 L259.8 356.8 L258.2 354.3 L257.1 352.1 L262.0 351.6 L262.3 353.4 L261.1 349.9 L258.3 348.0 L256.3 348.0 L254.3 345.6 L252.6 346.2 L250.6 340.8 L247.6 338.2 L245.3 335.7 L243.0 333.6 L241.6 332.7 L240.0 329.5 L236.7 328.2 L234.1 326.4 L231.1 325.2 L230.5 323.8 L227.1 323.8 L224.3 322.7 L219.5 322.5 L216.2 321.9 L213.7 321.7 L209.8 322.0 L204.6 324.7 L202.7 324.9 L203.7 319.5 L199.6 323.4 L198.0 326.2 L196.3 326.4 L192.5 327.7 L191.3 330.3 L190.0 331.8 L186.9 333.1 L183.9 334.0 L179.0 335.9 L174.7 337.7 L179.2 334.4 L182.3 332.6 L185.3 331.2 L186.3 327.6 L191.3 326.4 L187.9 325.4 L184.9 325.2 L181.0 326.4 L181.3 323.8 L177.2 322.2 L173.6 318.8 L175.7 317.2 L176.5 314.2 L179.9 314.7 L182.8 313.1 L183.3 312.8 L178.4 310.7 L176.0 311.6 L174.1 311.3 L171.3 311.1 L168.6 309.2 M260.4 351.0 L258.3 350.7 L254.5 348.4 L249.6 346.2 L252.4 347.1 L256.3 347.0 L258.4 349.2 L260.4 351.6 M243.9 343.6 L240.8 338.8 L239.9 338.7 L242.2 337.4 L243.6 342.7 M200.6 329.7 L199.7 331.2 L196.8 331.9 L198.2 327.6 L199.8 328.8 L201.5 329.9 M149.6 342.3 L153.1 342.5 L156.1 341.9 L159.4 341.7 M183.8 415.2 L186.3 416.5 M188.3 417.4 L189.8 418.5 M191.7 418.2 L193.3 419.7 M194.2 420.6 L194.6 424.3 L194.1 422.8 L193.3 421.2 M390.9 353.5 L394.9 354.4 L397.9 353.3 L401.9 353.8 L403.5 356.4 L405.9 352.7 L402.7 350.5 L400.4 348.4 L400.1 344.8 L396.2 345.5 L395.4 348.9 L391.9 351.8 L391.8 353.6 M380.7 347.7 L382.9 349.5 L386.6 349.9 M340.1 417.2 L344.0 413.6 L346.7 414.0 L350.7 415.9 L352.1 415.5 L354.8 417.5 L358.3 418.3 L361.8 421.7 L357.1 422.5 L353.6 419.6 L348.9 417.0 L347.3 415.9 L343.5 416.7 L339.2 417.0 M360.3 424.5 L363.1 422.0 L366.6 423.1 L370.6 423.4 L372.6 424.3 L368.0 426.1 L365.1 426.0 L360.8 425.4 M352.2 425.7 L357.1 426.9 L355.9 427.8 L352.8 425.9 M375.9 424.6 L378.8 425.9 M354.1 404.7 L355.4 405.6 M353.5 410.3 L354.4 412.3 M358.0 408.2 L358.5 411.1 M387.2 439.7 L387.9 439.2 M387.0 436.0 L387.9 434.2 M387.8 430.4 L387.9 429.8 M377.8 267.0 L380.8 265.6 L384.1 266.6 L387.2 265.6 L388.9 267.1 L392.4 267.5 L393.6 266.3 L396.5 266.3 L400.9 267.2 L403.4 266.6 L405.7 266.7 L407.0 267.2 L410.9 265.7 L412.7 266.6 L414.4 266.0 L416.8 265.5 L419.5 266.2 L422.8 265.2 L424.0 265.3 L427.9 264.8 L429.6 264.6 L433.1 265.2 L434.1 264.1 L437.3 264.8 L440.3 263.7 L441.8 265.0 L444.8 264.3 L447.1 265.8 L449.6 265.1 L452.2 265.0 L455.7 266.2 L457.2 264.8 L460.5 264.9 L461.5 266.7 L464.9 266.9 L467.3 267.4 L469.9 266.3 L471.5 267.5 L475.3 268.6 L476.7 268.4 L479.7 268.5 L482.1 268.6 L485.7 270.3 L487.7 270.0 L486.5 271.9 L482.7 271.1 L481.6 273.7 L478.1 272.8 L476.4 274.4 L473.8 275.8 L471.6 276.7 L469.6 278.6 L466.8 281.7 L469.9 281.6 L470.9 283.3 L473.8 284.5 L475.2 285.5 L473.7 288.0 L469.6 288.6 L468.3 288.8 L465.7 290.2 L462.7 292.0 L460.2 292.3 L457.3 293.7 L454.8 294.7 L453.9 298.4 L456.0 298.7 L460.0 298.0 L463.5 299.1 L465.9 297.9 L463.2 298.2 L459.8 299.3 L457.0 299.8 L455.2 299.4 L452.7 299.9 L450.2 301.8 L447.0 300.8 L444.7 302.5 L443.3 303.0 L440.9 305.8 L438.3 306.5 L435.0 307.9 L433.3 308.9 L431.8 308.3 L430.4 312.1 L427.8 313.2 L428.0 315.1 L427.1 317.6 L425.8 319.5 L424.0 323.3 L420.6 321.3 L418.4 320.7 L414.7 319.8 L413.5 319.2 L413.2 317.0 L410.7 314.7 L409.2 312.1 L409.5 309.1 L409.1 306.9 L407.8 305.0 L406.0 302.6 L406.3 298.8 L405.6 296.2 L405.0 294.4 L402.7 292.4 L401.9 288.9 L400.1 287.4 L397.9 286.6 L395.2 286.8 L392.8 284.9 L390.8 281.0 L388.8 278.6 L388.5 276.5 L386.8 274.8 L383.9 271.5 L382.7 269.0 L379.2 267.7 L378.0 266.0 M463.4 309.1 L467.8 307.4 L471.3 306.8 L474.1 307.5 L475.8 308.6 L479.6 307.1 L482.9 308.2 L486.5 311.2 L482.5 311.9 L479.3 313.4 L478.0 313.6 L475.8 314.5 L472.8 314.6 L467.8 314.4 L464.3 311.5 L464.2 309.4 M380.9 316.3 L376.1 319.1 L373.6 317.8 L373.1 316.2 L369.2 316.3 L365.7 314.6 L363.9 313.0 L360.5 312.5 L357.6 312.9 L355.0 312.8 L355.5 311.4 L359.0 309.0 L361.1 307.3 L362.1 304.9 L364.1 301.6 L361.9 302.2 L360.3 301.6 L357.9 299.6 L354.5 299.1 L351.9 298.4 L347.8 298.7 L346.1 298.0 L342.9 297.7 L338.5 298.3 L335.9 298.9 L332.3 296.8 L331.6 294.3 L329.3 293.0 L329.0 290.1 L331.6 290.6 L333.8 290.3 L336.8 290.2 L338.9 289.9 L341.7 289.1 L343.6 289.8 L345.9 290.5 L348.6 288.8 L350.9 291.3 L353.8 290.5 L355.5 291.0 L359.7 293.2 L362.5 294.4 L364.1 295.1 L367.5 296.5 L371.5 297.9 L373.0 299.1 L376.8 301.1 L377.2 301.4 L379.8 302.5 L383.8 305.5 L385.9 306.9 L386.5 309.0 L382.9 309.9 L381.6 311.3 L379.3 314.2 L381.1 316.8 M347.3 313.1 L345.0 314.1 L342.3 313.4 L340.7 313.8 L337.7 314.1 L335.0 309.3 L338.4 309.7 L340.8 309.3 L343.5 309.9 L346.6 311.2 L348.3 313.6 M386.9 267.3 L382.5 267.1 L381.3 268.4 L377.0 267.1 L375.3 267.4 L371.9 266.5 L369.5 266.9 L366.8 267.2 L364.2 265.7 L362.5 266.3 L358.8 266.5 L356.1 266.8 L354.8 266.8 L352.1 266.0 L349.1 266.1 L347.3 265.9 L344.6 266.2 L340.5 267.2 L339.1 268.1 L335.4 269.4 L332.3 269.0 L330.2 270.0 L327.9 270.3 L324.3 270.1 L321.2 272.1 L319.5 272.8 L315.8 273.1 L319.7 274.2 L321.2 274.9 L325.4 275.4 L326.8 276.4 L330.5 278.4 L332.2 277.9 L329.3 279.5 L326.7 280.4 L328.9 280.6 L332.7 281.9 L333.4 282.6 L335.9 281.6 L340.2 282.6 L342.2 282.1 L343.7 282.7 L346.0 282.0 L349.1 281.9 L351.6 280.7 L354.8 277.4 L357.5 277.0 L359.3 277.0 L362.7 276.9 L366.5 276.0 L368.7 275.9 L371.3 274.1 L374.8 274.7 L377.7 273.6 L380.8 272.8 L382.4 270.9 L383.8 269.7 L386.2 268.0 M348.5 282.4 L347.3 282.9 L344.4 281.9 L341.4 282.3 L339.3 282.1 L336.8 283.1 L333.2 282.5 L331.9 281.9 L328.7 283.0 L325.0 282.5 L322.4 283.4 L321.2 283.2 L316.7 283.7 L319.9 285.0 L322.3 285.8 L325.3 286.5 L327.2 287.4 L329.5 287.0 L332.6 287.2 L334.8 287.7 L338.0 285.9 L340.6 286.6 L342.8 286.7 L346.4 287.3 L349.0 286.5 L349.3 282.5 M332.3 271.7 L330.9 271.1 L326.5 271.5 L324.0 270.2 L320.6 271.2 L319.1 270.7 L316.4 272.8 L313.8 275.8 L316.7 276.1 L320.1 277.4 L322.0 277.3 L324.7 277.9 L328.0 277.5 L330.8 276.5 L332.6 275.6 L332.9 271.2 M305.0 300.2 L301.1 301.1 L298.5 300.0 L295.5 300.3 L292.9 300.9 L290.5 300.7 L288.1 302.1 L283.5 302.3 L282.3 302.6 L277.7 301.7 L275.6 299.1 L271.3 300.0 L270.6 294.6 L272.0 292.6 L274.8 292.0 L277.6 290.6 L281.3 291.8 L282.4 291.8 L285.9 291.5 L288.5 291.6 L291.3 291.4 L292.7 290.9 L296.0 290.9 L298.5 291.8 L301.5 291.1 L303.6 291.4 L305.1 293.8 L306.1 296.4 L305.1 300.8 M265.1 294.6 L262.3 295.0 L258.4 294.7 L256.4 293.8 L257.5 291.4 L257.7 287.6 L261.9 286.7 L264.4 287.7 L266.2 287.5 L270.3 289.1 L272.3 290.2 L275.4 290.2 L274.1 290.7 L271.7 293.4 L268.9 295.4 L265.1 294.6 M295.6 285.9 L292.9 286.8 L289.2 286.5 L286.5 287.0 L284.2 286.8 L281.4 286.4 L278.0 285.5 L275.1 286.3 L272.6 285.4 L274.5 283.2 L277.0 282.5 L280.6 282.7 L282.3 282.4 L286.8 281.9 L288.0 281.3 L290.8 280.9 L294.7 284.0 L295.9 286.0 M312.6 284.1 L310.1 284.1 L306.4 284.4 L303.5 284.7 L300.4 284.2 L303.4 282.2 L306.7 281.9 L308.6 282.2 L312.3 283.5 M273.9 283.1 L271.1 282.3 L268.8 283.5 L265.8 282.7 L262.7 283.4 L265.8 281.5 L269.5 280.7 L273.3 282.3 M321.7 286.6 L319.1 286.2 L318.1 287.6 L315.7 287.9 L311.4 288.2 L310.5 284.9 L313.8 284.0 L315.2 283.4 L318.3 283.6 L319.8 283.3 L322.6 286.5 M313.4 293.8 L311.1 294.0 L308.4 293.5 L305.9 291.5 L304.6 291.7 L306.6 288.1 L308.3 289.5 L312.8 289.9 L315.9 288.6 L314.4 293.4 M328.0 293.8 L324.6 293.9 L321.1 293.5 L318.9 291.2 L319.6 288.8 L324.8 287.9 L327.3 289.4 L327.7 293.4 M315.8 302.8 L312.8 300.8 L309.0 301.4 L312.2 299.2 L313.7 301.0 L316.4 302.0" fill="none" stroke="#3f003f" stroke-width="2.1" stroke-linejoin="round" stroke-linecap="round"/>
<path d="M261.0 350.1 L318.1 350.1 L318.5 349.1 L319.5 350.9 L324.6 351.9 L329.8 352.6 L340.0 356.3 L344.1 359.3 L344.1 366.2 L343.1 367.4 M351.3 364.4 L351.3 365.2 M356.5 362.5 L360.0 360.0 L366.7 360.0 L368.2 358.8 L369.8 355.8 L371.4 354.1 L373.5 354.3 L374.3 358.3 L375.6 359.5 M224.1 299.3 L224.1 322.3 L228.2 323.0 L231.2 325.5 L235.3 323.5 L239.5 326.7 L244.6 332.9 L246.6 334.1 M273.1 390.8 L278.0 390.3 L285.6 393.8 L291.4 393.8 L291.4 392.6 L294.9 392.6 L299.0 397.7 L302.1 399.5 L305.1 397.5 L309.2 403.2 L314.0 407.1 M273.3 350.1 L273.3 357.5 L274.4 358.8 L273.3 362.0 L273.3 367.4 M258.3 357.0 L265.1 358.5 L273.3 357.5 M258.5 367.4 L285.6 367.4 L300.0 367.4 M267.2 367.4 L267.2 374.8 L278.3 384.7 M279.5 367.4 L279.5 379.7 L278.3 384.7 M279.3 386.4 L278.0 390.3 M285.6 360.0 L285.6 369.9 L289.7 369.9 L289.7 393.8 M275.4 350.1 L275.4 353.8 L279.5 357.5 L284.6 361.2 L285.6 361.2 L285.6 360.0 M279.5 379.7 L302.1 379.7 M289.7 379.7 L289.7 369.9 L304.1 369.9 L304.1 379.7 M300.0 350.1 L300.0 369.9 M285.6 360.0 L300.0 360.0 L315.4 358.8 M300.0 357.5 L315.4 357.5 L315.4 350.1 M300.0 364.9 L315.4 364.9 L315.4 358.8 L315.4 357.5 M300.0 369.9 L304.1 369.9 M304.1 372.3 L317.9 372.3 L316.4 368.6 L315.4 364.9 M302.1 379.7 L302.1 392.1 L294.9 392.1 M302.1 381.0 L308.2 381.0 L308.2 385.9 L319.5 387.9 L319.5 381.0 M304.1 379.7 L319.3 379.7 L319.3 373.6 M317.5 371.1 L325.7 371.1 L327.5 366.2 L326.3 363.7 L326.1 358.8 L323.0 357.5 M315.4 363.7 L326.3 363.7 M327.5 366.2 L333.3 366.2 M329.8 381.0 L328.8 382.2 L319.5 381.0 M320.5 389.6 L326.7 389.6 L325.7 394.5 L329.4 394.5 L329.8 396.5 M320.5 389.6 L320.5 397.7 M326.7 389.6 L328.1 384.7 L329.8 381.0 L330.4 379.7 L325.7 371.1 M332.9 395.8 L332.4 384.7 L337.8 384.7 L339.0 392.1 L339.2 394.5 L333.7 394.5 L333.9 396.3 M339.0 394.5 L345.2 395.5 L346.2 395.5 M328.1 384.7 L345.8 380.7 L357.9 380.7 M330.4 379.7 L332.9 377.8 L339.4 374.6 L343.9 376.0 L348.3 370.9 M333.9 377.5 L333.9 368.1 M339.4 374.6 L339.4 368.1 M339.4 368.1 L342.3 368.1 M348.3 367.4 L348.3 373.1 L357.9 373.1 L359.5 370.4 L362.2 369.6 M349.7 366.9 L358.9 367.4 L361.6 369.9 M362.6 360.0 L363.0 367.4 L362.2 369.9 M366.7 360.0 L364.7 365.7 L366.1 369.1 M363.0 367.4 L368.0 365.4 M341.9 384.7 L347.2 384.2 L347.8 385.2 L352.4 387.4 M342.9 384.7 L347.2 392.1 M343.9 376.0 L348.3 378.5 L354.4 374.3 L358.3 377.3 M337.8 384.7 L340.5 380.7 M324.2 435.2 L324.6 427.1 L326.7 427.1 L330.4 426.8 L330.4 431.8 M330.0 435.5 L332.9 436.7 L334.3 438.9 L339.0 434.5 L342.7 434.0 M337.6 443.9 L341.7 443.9 M343.3 450.5 L343.9 447.6 M354.6 449.8 L355.4 452.5 M365.7 442.6 L364.7 452.5 L369.8 455.0 L374.9 455.7 L374.9 464.8 L377.0 468.5 L370.8 471.0 M390.3 450.0 L388.9 458.2 L390.3 467.3 L392.4 467.8 M396.5 456.2 L398.5 466.1 M402.6 457.4 L401.6 465.3 M370.8 468.5 L369.8 471.0 M386.4 446.1 L388.3 444.9" fill="none" stroke="#3f003f" stroke-width="1.9" stroke-linejoin="round" stroke-linecap="round"/>
<path d="M256.6 309.7 L259.2 307.7 L260.8 306.8 L264.6 306.9 L266.6 306.0 L268.3 307.4 L272.7 310.1 L268.4 310.5 L266.1 311.8 L262.6 310.2 L259.5 310.8 L256.9 309.4 M273.1 320.9 L276.6 320.7 L280.1 318.9 L281.1 318.0 L284.5 317.9 L287.8 317.7 L288.8 316.8 L286.8 317.6 L282.7 317.1 L279.7 318.4 L275.7 318.9 L273.3 320.5 M283.3 325.4 L286.8 326.4 L289.1 325.8 L293.7 324.4 L295.9 324.5 M303.3 332.0 L304.1 328.4 M310.2 344.6 L312.9 346.9 L316.0 343.9 L314.1 341.7 L314.9 337.8 L311.5 339.8 L311.6 342.2 L310.3 345.2 M321.5 351.5 L324.6 350.1 M160.2 313.3 L163.9 314.5 L166.7 315.2 L163.3 315.6 L160.1 313.9 L160.8 313.9 M172.7 321.8 L173.8 322.8 M323.9 356.1 L329.3 355.4 L331.5 355.9 L333.9 355.3 L335.5 356.9 L339.7 355.5 L340.2 355.8 L339.6 352.9 L336.8 351.2 L332.5 352.5 L328.3 351.9 L326.1 353.7 L324.6 355.8 M332.4 366.5 L334.0 364.4 L333.2 360.9 L336.8 357.2 L339.2 358.1 L337.2 363.4 L335.4 366.3 L333.3 367.4 M340.3 358.9 L344.5 357.3 L348.1 358.1 L349.8 362.2 L345.6 361.5 L343.7 364.6 L342.9 363.8 L343.2 359.1 L340.0 358.0 M342.7 368.6 L345.0 368.5 L346.3 366.2 L351.8 366.3 L348.6 365.8 L344.3 368.9 L342.1 368.1 M348.9 363.8 L352.1 363.4 L355.4 363.5 L356.6 361.3 L354.8 361.5 L350.7 362.6 L349.7 364.2" fill="none" stroke="#3f003f" stroke-width="3" stroke-linejoin="round" stroke-linecap="round"/>
<path d="M579.3 397.9 L579.2 394.9 L577.9 393.8 L573.3 394.7 L570.7 395.0 L569.6 393.8 L564.7 392.7 L561.4 390.5 L556.9 389.4 L554.0 392.4 L554.0 396.1 L549.7 395.8 L547.4 393.4 L544.6 391.6 L543.4 390.6 L539.5 389.8 L536.7 389.9 L534.9 387.6 L535.2 384.2 L535.0 379.6 L533.0 378.6 L529.4 379.4 L526.6 381.1 L524.8 381.1 L518.9 379.8 L516.3 380.1 L511.9 383.0 L509.3 383.2 L506.4 383.1 L502.5 381.7 L501.8 383.5 L498.9 387.0 L496.9 388.3 L494.1 390.6 L492.9 396.3 L492.4 398.9 L488.0 401.1 L486.6 403.9 L483.3 406.3 L482.6 410.0 L481.7 412.5 L479.2 414.3 L479.1 417.8 L479.8 419.5 L480.7 422.6 L480.7 428.6 L479.6 430.6 L478.8 434.7 L479.8 437.2 L478.6 441.3 L481.4 442.0 L483.5 445.3 L484.8 447.6 L487.7 451.3 L489.5 454.7 L493.6 456.9 L494.7 458.5 L496.8 460.4 L500.3 459.9 L506.2 458.2 L509.4 459.2 L513.6 456.5 L517.5 455.2 L519.0 454.4 L522.2 456.1 L523.3 457.0 L526.2 459.5 L527.9 460.1 L531.5 459.9 L533.4 461.6 L534.4 466.5 L532.1 467.8 L532.6 471.0 M599.7 473.0 L600.8 470.0 L602.6 467.8 L605.0 467.8 L606.2 465.7 L610.5 461.7 L612.2 460.8 L612.8 457.3 L614.8 455.0 L614.9 453.4 L616.7 449.7 L616.6 447.2 L617.8 446.1 L619.2 443.5 L616.8 443.3 L612.7 443.0 L611.9 444.2 L607.9 444.1 L606.1 444.8 L602.9 441.8 L601.6 440.7 L598.8 436.7 L598.6 435.8 L595.5 433.0 L594.2 431.1 L593.3 426.9 L590.4 424.2 L590.1 421.5 L589.5 420.0 L587.6 415.0 L586.4 411.7 L586.2 408.9 L583.9 407.2 L582.1 403.8 L582.7 401.0 L580.2 398.2 L580.2 397.0 M580.3 393.6 L583.2 393.1 L582.9 398.0 L584.5 397.7 L584.5 402.0 L587.6 404.6 L588.6 407.2 L589.9 411.0 L592.9 414.4 L594.2 417.9 L594.9 419.9 L596.1 422.9 L597.4 425.5 L597.7 427.5 L600.6 429.8 L601.3 432.7 L601.3 437.4 L602.4 440.2 L605.2 438.6 L610.7 437.3 L612.8 436.2 L617.0 434.5 L620.1 431.2 L625.3 430.0 L626.7 427.0 L629.8 425.5 L632.2 424.8 L634.2 420.5 L636.1 417.2 L634.7 413.5 L632.1 412.7 L630.1 409.1 L629.8 405.4 L628.0 408.3 L625.4 411.5 L622.4 411.1 L619.8 411.8 L619.6 407.1 L618.1 406.8 L617.6 408.9 L615.9 406.2 L613.9 403.3 L613.6 401.9 L612.0 398.1 L612.4 396.6 L614.4 397.4 L617.3 398.9 L620.1 402.1 L623.0 405.1 L626.9 405.0 L628.9 404.7 L630.1 406.0 L634.7 408.3 L638.1 409.1 L640.0 409.8 L643.9 408.6 L648.3 408.1 L650.8 410.0 L653.2 413.9 L655.1 415.3 L656.4 414.5 L655.4 416.9 L658.4 420.5 L662.2 418.4 L662.6 418.2 L663.9 422.6 L663.4 426.0 L663.1 427.5 L665.7 432.7 L666.5 435.7 L668.2 440.5 L669.7 444.1 L670.9 446.7 L670.9 450.1 L672.8 451.0 L673.6 448.4 L676.3 448.3 L677.0 446.6 L677.8 441.7 L677.8 440.7 L678.0 438.1 L677.1 433.1 L681.5 431.0 L682.8 429.0 L684.9 426.7 L687.5 423.7 L691.1 422.2 L692.2 418.3 L694.4 416.0 L697.7 416.2 L698.5 415.6 L701.4 416.1 L703.2 419.8 L702.5 420.0 L706.0 422.8 L707.5 426.3 L706.8 429.8 L706.3 432.8 L709.7 431.7 L711.5 429.3 L713.0 431.1 L714.4 435.4 L714.9 437.6 L715.2 439.3 L716.7 444.0 L715.5 447.1 L715.9 450.1 L716.1 452.4 L717.7 455.1 L718.9 457.2 L720.9 460.6 L721.1 464.4 L723.7 466.3 L725.4 467.1 L727.1 466.9 L726.9 463.2 L725.9 459.6 L724.0 456.5 L721.7 453.4 L718.8 453.9 L718.5 449.5 L716.7 445.9 L716.6 442.9 L718.7 439.4 L719.1 438.1 L720.0 439.2 L724.2 440.2 L724.8 444.0 L728.6 444.7 L728.7 448.5 L728.4 450.7 L731.1 448.5 L734.2 444.6 L737.2 441.9 L738.1 438.0 L738.1 435.9 L736.6 432.5 L734.4 429.7 L732.9 426.3 L730.7 424.2 L731.9 421.0 L733.9 418.8 L736.4 417.3 L738.7 417.4 L739.3 421.6 L741.0 418.3 L743.7 417.4 L746.4 416.0 L749.2 413.9 L752.3 413.7 L754.6 411.7 L756.7 409.6 L759.6 408.2 L760.2 406.1 L760.3 402.2 L762.0 400.3 L764.3 396.9 L762.7 395.3 L763.9 392.3 L762.2 390.3 L760.7 385.8 L757.4 385.5 L759.9 383.6 L760.6 380.0 L764.3 379.1 L762.5 378.3 L760.3 377.4 L758.7 378.6 L758.0 378.6 L756.2 376.0 L754.8 375.2 L756.5 373.3 L759.5 373.1 L761.0 370.2 L763.8 370.6 L763.4 370.6 L761.5 374.1 L762.5 375.9 L765.1 372.7 L767.4 372.6 L769.4 373.0 L769.2 372.7 L771.6 375.9 L773.0 378.4 L773.9 379.9 L773.0 382.1 L771.9 385.1 L773.0 386.2 L776.1 384.7 L777.8 383.8 L779.3 384.5 L778.9 381.1 L779.7 378.8 L777.4 375.5 L774.3 373.3 L776.7 371.7 L779.4 369.4 L780.4 369.0 L781.3 366.1 L783.5 365.3 L787.4 365.1 L789.2 365.0 L790.9 363.1 L795.0 360.6 L797.9 356.8 L799.2 353.4 L801.7 350.5 L802.4 348.1 L801.3 343.5 L803.5 340.9 L802.7 339.1 L800.3 338.4 L798.1 336.8 L794.8 338.0 L794.0 335.7 L790.4 334.8 L795.1 334.4 L795.5 332.6 L800.8 329.3 L802.2 326.7 L805.9 324.1 L810.2 323.5 L814.0 325.0 L817.6 325.4 L820.7 323.2 L823.6 324.5 L825.6 326.0 L830.9 324.6 L831.1 323.3 L835.5 320.2 L837.2 319.1 L842.2 319.8 L842.2 319.9 L842.2 321.4 L844.8 321.9 L847.8 319.5 L850.7 315.9 L850.3 320.8 L847.7 323.4 L845.8 325.1 L841.9 326.7 L837.2 328.0 L835.5 329.6 L834.1 333.4 L832.8 338.7 L833.3 340.6 L835.0 344.6 L838.3 342.5 L839.8 341.5 L842.5 338.9 L842.1 336.9 L846.1 335.2 L845.3 332.7 L847.8 332.8 L849.3 328.5 L846.1 327.3 L848.2 325.2 L849.5 322.7 L852.9 322.9 L857.3 322.8 L861.2 322.5 L864.4 323.2 L867.2 320.1 L870.0 319.0 L873.4 318.2 L877.7 316.8 L880.2 316.2 L881.2 318.1 L882.1 315.5 L883.4 313.3 L883.0 310.7 M143.2 311.0 L146.8 309.6 L149.5 310.0 L152.3 310.2 L153.5 311.3 L158.1 312.5 L158.6 311.9 L158.9 308.4 L162.5 307.7 L164.9 308.1 L160.9 306.4 L156.6 305.5 L153.4 303.7 L150.0 301.7 L147.0 302.5 L144.0 301.0 M883.1 311.1 L880.6 310.9 L877.8 311.6 L875.0 310.1 L879.7 307.5 L883.0 309.4 M883.9 301.2 L879.4 299.3 L876.4 298.6 L872.2 298.6 L868.7 298.8 L866.0 297.9 L862.9 298.7 L860.2 299.3 L857.1 299.4 L854.4 300.0 L850.2 299.6 L847.8 299.6 L844.4 300.2 L841.2 296.8 L838.3 297.0 L835.2 295.1 L831.9 295.1 L828.7 296.6 L824.7 297.0 L821.8 294.1 L817.7 293.5 L815.9 292.8 L811.4 291.3 L808.3 292.5 L805.4 292.0 L802.5 292.3 L798.6 292.2 L795.5 295.0 L792.0 295.4 L789.5 293.7 L785.2 294.8 L782.4 297.1 L778.9 294.7 L776.6 292.8 L778.7 290.7 L775.7 289.6 L773.9 289.5 L771.4 289.7 L767.2 288.9 L764.4 291.0 L762.1 290.3 L758.1 290.3 L755.7 290.1 L752.8 289.5 L749.3 289.8 L747.2 288.5 L743.3 289.9 L738.4 287.8 L737.6 289.2 L734.2 290.2 L731.6 290.8 L729.1 290.1 L732.6 287.3 L734.3 287.8 L737.3 287.0 L739.2 285.9 L741.1 284.3 L744.5 285.0 L747.4 284.1 L743.0 282.6 L740.8 282.1 L737.5 281.8 L734.3 281.9 L730.7 280.4 L728.7 280.3 L725.9 279.3 L722.9 280.0 L720.5 280.8 L715.7 283.8 L713.9 283.2 L711.4 283.1 L707.9 282.9 L705.4 283.7 L703.5 284.5 L701.2 284.4 L698.1 285.6 L693.3 285.4 L691.2 288.0 L691.8 289.5 L689.4 290.1 L686.1 289.7 L685.2 289.1 L681.3 288.5 L678.1 289.2 L679.4 292.1 L682.7 293.8 L680.0 294.6 L677.5 292.5 L675.1 293.3 L672.8 292.6 L669.1 293.4 L666.7 290.5 L663.8 294.7 L663.1 291.7 L659.7 290.1 L655.4 291.7 L654.4 294.4 L651.0 296.3 L650.8 299.4 L653.2 303.0 L651.2 301.5 L649.2 299.8 L645.8 298.6 L644.2 299.3 L641.7 297.9 L637.9 299.3 L636.3 300.7 L631.9 300.3 L630.5 300.8 L628.1 302.1 L623.4 301.2 L624.0 303.1 L621.4 302.7 L619.0 302.8 L616.2 304.0 L613.6 303.4 L609.5 303.7 L604.8 301.6 L603.9 304.6 L603.5 306.7 L599.7 307.3 L597.2 306.7 L594.5 308.9 L597.2 311.1 L592.1 312.0 L588.6 313.6 L585.5 311.5 L585.8 308.9 L581.6 307.1 L585.4 308.1 L587.8 306.5 L592.1 307.1 L595.5 307.7 L597.9 304.4 L596.6 303.2 L592.9 303.0 L589.7 301.5 L587.0 301.0 L585.2 301.0 L580.4 299.9 L577.0 299.7 L573.9 298.3 L569.4 295.4 L566.0 295.5 L561.2 296.3 L559.7 297.8 L556.2 299.1 L551.9 299.0 L547.7 301.5 L546.1 302.1 L543.2 305.6 L539.8 307.4 L538.1 310.7 L534.4 312.5 L533.2 314.3 L530.1 315.9 L525.2 317.6 L523.5 319.1 L524.5 321.1 L525.1 325.7 L525.0 325.0 L526.7 328.6 L528.9 328.5 L532.3 326.2 L534.2 323.6 L536.4 324.6 L536.2 327.8 L538.2 329.4 L539.7 330.0 L539.5 333.9 L540.4 333.4 L542.7 333.8 L543.1 332.1 L545.4 333.6 L547.0 330.9 L546.8 327.9 L547.7 326.1 L549.8 325.8 L551.0 324.5 L549.4 320.7 L548.7 319.3 L550.5 316.5 L550.9 316.3 L555.9 314.1 L557.2 311.0 L558.8 308.3 L560.8 308.7 L565.3 309.5 L565.4 309.9 L564.2 312.7 L560.8 313.7 L558.0 316.6 L558.0 318.5 L557.4 319.7 L557.3 322.7 L559.5 322.8 L561.6 322.5 L566.8 321.3 L569.1 322.6 L572.1 322.0 L574.2 322.5 L571.4 323.0 L568.6 324.8 L564.0 323.8 L562.1 325.6 L562.6 327.3 L563.2 329.4 L562.4 330.4 L561.8 330.4 L558.8 330.2 L557.1 330.2 L557.1 331.4 L557.2 333.1 L557.1 335.1 L554.9 335.2 L554.0 336.9 L551.1 336.3 L547.9 336.9 L545.3 337.7 L542.3 338.0 L538.6 336.1 L536.9 337.9 L535.7 336.6 L534.7 335.6 L534.2 334.5 L535.2 331.9 L535.5 330.4 L536.0 327.8 L532.6 330.6 L531.4 330.1 L529.4 333.4 L530.4 335.0 L532.2 337.8 L530.4 338.0 L527.7 340.0 L526.2 339.2 L523.7 340.1 L523.5 341.0 L521.7 343.5 L520.1 343.9 L518.2 344.6 L516.5 344.5 L516.2 347.3 L513.6 347.5 L513.9 348.7 L510.7 348.9 L511.5 347.6 L509.9 349.1 L509.8 350.7 L507.9 350.9 L503.6 350.5 L504.6 352.8 L508.2 353.4 L508.8 355.4 L511.7 357.2 L510.8 361.4 L511.3 363.1 L509.3 364.4 L505.0 364.3 L500.8 362.6 L497.6 363.0 L494.5 364.7 L496.2 367.9 L494.5 370.1 L494.6 372.3 L494.7 374.6 L495.2 377.3 L495.3 379.7 L498.1 379.9 L500.5 380.5 L500.6 380.5 L502.8 382.1 L504.8 381.0 L508.2 379.9 L509.4 379.1 L511.7 375.7 L514.4 375.4 L512.0 373.9 L515.8 369.8 L517.1 369.3 L519.9 367.6 L520.9 365.3 L522.5 363.0 L523.4 364.2 L525.9 365.7 L528.4 362.5 L531.0 361.0 L534.3 362.6 L535.1 365.0 L536.2 366.3 L539.3 368.7 L542.5 368.9 L542.7 370.0 L545.6 371.8 L545.7 375.0 L546.5 377.0 L548.2 375.4 L549.4 374.9 L547.5 373.2 L547.4 372.6 L548.5 370.7 L551.0 372.7 L550.2 371.3 L549.0 369.8 L546.0 369.0 L544.0 367.9 L541.4 365.8 L541.5 362.6 L539.5 360.6 L539.4 358.6 L541.2 358.4 L542.2 358.5 L542.0 360.1 L542.4 358.7 L544.6 359.3 L545.7 361.1 L545.5 362.9 L549.6 365.8 L551.3 366.7 L552.8 368.5 L553.9 369.2 L552.2 371.7 L553.6 373.7 L555.6 374.8 L557.4 376.4 L558.2 378.3 L560.5 380.6 L561.4 379.5 L561.1 379.2 L560.9 376.3 L562.5 377.1 L560.2 374.9 L558.9 371.8 L560.8 371.0 L562.7 370.8 L564.0 369.6 L566.7 371.1 L568.4 370.2 L567.1 371.8 L568.4 373.6 L569.4 374.2 L567.9 377.3 L569.7 378.3 L569.1 379.0 L570.5 381.3 L573.7 380.2 L577.0 380.0 L578.4 381.4 L580.9 382.8 L584.6 379.3 L586.9 380.1 L586.5 383.2 L586.6 385.2 L586.0 386.3 L585.7 388.8 L584.8 392.6 L583.9 393.8 M567.7 370.0 L569.0 369.9 L571.2 369.7 L572.7 369.5 L576.8 369.4 L581.6 367.0 L584.7 368.3 L588.1 369.8 L593.3 369.8 L594.9 369.1 L599.4 367.9 L598.9 366.2 L595.5 364.4 L592.9 362.5 L591.1 360.5 L588.4 359.3 L585.8 359.0 L583.8 362.0 L582.3 362.0 L579.5 360.1 L582.5 358.4 L579.3 357.2 L576.6 356.6 L574.8 357.6 L573.3 359.0 L574.5 359.8 L573.4 360.4 L572.4 362.7 L571.2 365.5 L571.2 365.3 L570.5 367.8 L572.4 367.7 L573.0 369.4 M585.6 358.9 L589.1 358.7 L592.1 357.0 L595.0 353.8 L592.4 354.6 L589.3 354.7 L585.5 357.3 L585.3 358.5 M611.4 357.8 L613.4 356.1 L614.5 355.5 L618.5 356.0 L622.9 356.9 L622.7 358.8 L619.4 360.8 L619.7 364.5 L621.1 366.7 L622.6 369.7 L623.5 370.3 L623.0 371.7 L623.2 373.9 L624.4 374.3 L625.0 379.6 L621.1 380.7 L617.8 380.1 L614.3 378.1 L614.3 376.6 L615.6 371.4 L617.7 371.7 L616.0 369.1 L614.0 368.0 L610.5 365.6 L610.1 361.9 L609.3 360.7 L611.0 358.5 M633.2 359.3 L636.0 357.5 L638.5 357.1 L640.3 359.1 L639.2 361.9 L635.5 362.1 L633.9 361.9 L633.2 358.5 M665.1 356.5 L670.2 356.6 L671.6 356.0 L674.7 355.3 L674.2 356.9 L671.3 357.4 L668.2 357.5 L665.4 356.3 M501.5 348.1 L505.5 346.3 L506.5 345.5 L510.8 345.8 L514.4 346.3 L515.6 345.1 L514.2 344.4 L516.4 340.8 L517.5 340.0 L513.4 339.8 L513.1 338.1 L510.8 336.1 L511.1 333.9 L510.0 332.2 L508.4 331.5 L509.4 328.7 L509.2 329.8 L506.6 329.3 L506.6 326.2 L502.4 326.6 L502.9 328.5 L501.3 331.3 L502.8 332.7 L500.3 334.6 L503.1 336.0 L503.4 336.4 L507.0 335.3 L507.4 338.2 L508.4 339.3 L504.2 340.2 L503.4 341.4 L505.5 342.1 L502.7 343.7 L505.7 344.2 L507.4 343.0 L504.5 344.0 L501.8 347.4 M502.1 343.0 L500.1 339.9 L502.2 335.7 L500.4 335.3 L498.4 334.2 L496.6 335.9 L493.3 338.1 L495.0 340.6 L493.2 343.1 L493.1 344.9 L497.1 343.9 L499.7 342.1 L501.2 342.2 M530.9 375.5 L533.8 374.2 L532.9 370.4 L533.1 368.5 L530.8 369.5 L530.7 374.8 M531.0 367.7 L532.6 365.4 L533.1 365.9 L530.5 366.3 L531.4 368.6 M540.0 376.7 L542.0 376.8 L544.7 376.0 L544.3 380.2 L542.8 378.4 L539.2 377.3 M561.1 384.7 L564.4 384.7 L567.6 384.7 L564.4 384.7 M579.4 384.5 L584.8 383.4 L581.9 384.2 M518.5 373.9 L520.5 372.8 M536.6 276.2 L538.4 276.2 L541.3 273.7 L544.6 273.4 L547.9 272.6 L551.1 273.3 L552.7 274.2 L555.1 272.9 L557.3 273.6 L561.2 274.0 L563.3 274.8 L565.4 274.3 L569.2 276.1 L566.7 276.0 L564.5 275.8 L562.4 277.0 L558.8 276.7 L557.2 277.1 L552.9 280.0 L550.5 281.1 L546.7 282.4 L541.5 279.5 L538.3 278.1 L536.1 276.6 M610.0 273.1 L612.9 272.3 L614.9 272.0 L617.2 272.2 L620.8 271.9 L622.6 271.4 L626.9 270.8 L630.3 271.4 L633.0 271.1 L635.4 271.5 L637.0 271.5 L640.7 271.6 L642.4 270.8 L640.3 272.7 L636.9 271.8 L634.1 271.9 L632.2 274.0 L629.7 273.1 L626.8 272.8 L624.3 273.1 L619.9 273.5 L617.5 272.6 L614.6 272.7 L612.8 273.3 L610.0 272.4 M620.4 295.3 L623.6 294.9 L627.7 296.0 L631.2 297.0 L629.4 295.5 L627.9 293.6 L631.1 289.8 L631.6 288.6 L633.7 286.4 L636.5 283.9 L639.7 284.6 L642.3 283.3 L644.9 283.0 L647.4 283.0 L652.0 282.3 L655.0 280.7 L652.5 280.3 L648.9 280.6 L646.3 282.0 L644.3 282.0 L641.0 281.8 L638.5 282.4 L635.7 284.3 L634.0 284.8 L630.9 286.4 L628.9 287.6 L627.5 290.6 L625.3 292.7 L621.3 294.6 M709.4 278.2 L712.0 276.6 L713.8 274.3 L717.8 274.4 L721.8 274.2 L723.4 274.0 L725.8 274.9 L730.0 274.5 L724.0 276.7 L721.9 278.6 L720.1 278.1 L715.9 277.8 L713.3 278.7 L711.2 278.8 L708.5 277.4 M793.5 287.8 L795.7 288.3 L798.1 287.3 L802.0 288.5 L803.9 288.8 L806.1 291.0 L809.9 290.1 L812.8 288.1 L814.7 287.0 L818.4 287.3 L820.7 285.0 L818.1 285.8 L815.7 284.4 L813.9 285.6 L810.4 283.8 L808.5 284.4 L804.1 283.7 L802.5 284.6 L799.5 284.0 L796.2 283.0 L795.5 285.1 L792.7 287.2 M879.1 295.6 L883.0 294.6 M143.3 294.0 L148.0 294.8 L149.1 295.9 M726.6 344.1 L729.9 342.6 L732.6 340.7 L734.1 339.6 L736.6 337.4 L737.8 334.4 L737.6 333.3 L734.8 336.1 L734.0 336.3 L731.6 340.0 L729.5 340.7 L728.6 343.4 L726.4 343.7 M479.9 401.7 L481.7 401.9 M463.3 430.7 L465.3 434.0" fill="none" stroke="#3f003f" stroke-width="2.1" stroke-linejoin="round" stroke-linecap="round"/>
<path d="M576.0 323.6 L577.2 318.4 L580.3 321.4 L578.6 323.3 L577.0 323.5 L575.1 323.0 M586.8 319.3 L587.7 315.9 L585.5 316.5 L586.0 319.8 M565.8 319.7 L567.3 319.3 L570.3 318.1 L573.3 316.2 L572.3 317.0 L567.9 317.5 L564.8 319.3 M540.3 327.3 L543.3 325.2 L541.4 325.1 L539.2 325.7 M542.4 327.0 L543.3 326.0 M598.8 352.7 L601.1 350.0 L604.3 347.9 L606.2 347.5 L607.2 344.0 L609.3 342.1 L610.5 339.9 L613.3 338.7 L613.8 335.8 L616.6 335.6 L618.9 332.5 L620.0 331.2 L623.2 329.0 L625.4 328.8 L627.6 326.0 M625.9 326.5 L627.6 323.5 L630.9 325.2 L627.6 326.7" fill="none" stroke="#3f003f" stroke-width="3" stroke-linejoin="round" stroke-linecap="round"/>
<path d="M782.2 387.3 L783.9 385.6 L786.8 384.3 L790.1 383.8 L793.1 383.9 L794.1 379.3 L795.7 380.9 L797.7 379.5 L799.2 377.4 L800.8 374.0 L800.4 370.7 L801.4 369.0 L803.0 369.0 L804.9 371.4 L805.9 374.1 L804.6 377.5 L803.4 376.8 L802.2 379.8 L801.4 381.7 L803.3 385.0 L800.5 385.2 L801.0 384.2 L799.8 384.0 L797.6 386.3 L795.4 385.7 L794.1 384.7 L795.3 385.7 L792.3 388.7 L790.7 386.8 L788.4 386.5 L786.9 387.3 L783.6 386.6 L782.0 388.2 L782.2 387.4 M779.0 388.6 L781.2 391.8 L780.1 393.4 L782.4 394.9 L783.9 393.8 L783.3 390.3 L783.5 389.5 L782.2 387.6 L782.3 387.7 L780.0 389.1 M785.9 389.9 L787.7 389.0 L789.2 387.2 L788.7 385.7 L787.3 385.7 L784.9 387.4 L785.7 389.6 M801.8 368.8 L802.5 368.4 L803.3 365.1 L807.3 367.2 L810.5 365.1 L812.8 363.4 L812.0 361.7 L808.7 361.0 L805.7 358.2 L804.9 360.6 L804.3 363.3 L800.9 363.8 L801.7 366.0 L800.9 368.4 M805.3 357.7 L808.2 355.4 L805.7 352.8 L808.0 349.9 L807.8 346.6 L806.9 341.9 L806.5 339.7 L805.7 338.0 L805.3 339.5 L804.3 343.3 L804.1 346.2 L805.0 350.6 L804.3 355.7 L805.0 357.5 M812.8 362.7 L815.1 361.5 M817.4 359.4 L818.7 358.5 M820.0 356.5 L822.4 355.6 M824.1 353.8 L826.1 352.6 M828.3 351.1 L829.8 349.6 M832.4 347.3 L833.5 346.7 M760.4 414.9 L760.7 409.6 L762.8 407.8 L763.9 410.2 L761.9 413.5 L761.4 416.3 L760.0 414.3 M735.9 423.5 L737.7 420.8 L740.5 421.4 L742.2 422.8 L739.3 424.6 L738.8 426.2 L736.4 423.6 M761.8 426.3 L765.3 424.6 L765.2 429.1 L762.6 431.4 L763.6 434.9 L764.1 435.5 L768.9 438.9 L768.1 439.1 L764.5 437.3 L761.3 437.5 L760.8 434.5 L760.8 431.5 L760.0 426.9 L761.1 425.4 M764.2 453.8 L766.1 451.9 L769.6 450.1 L770.6 447.6 L773.4 451.6 L771.9 456.1 L771.6 457.7 L769.2 454.7 L765.8 453.3 L763.9 453.7 M766.5 445.3 L769.1 442.3 L769.5 445.8 M763.4 441.0 L765.5 444.4 L763.9 445.1 M769.1 440.7 L771.7 444.3 L770.1 445.8 M754.5 450.4 L756.4 447.7 L758.8 444.4 M736.7 466.5 L738.7 467.0 L741.3 468.3 L742.6 464.3 L746.1 462.5 L749.5 459.6 L750.0 459.1 L752.3 455.3 L754.4 454.6 L755.8 456.4 L757.5 458.8 L755.3 460.1 L754.8 463.5 L755.9 467.7 L754.6 468.5 L754.7 471.0 M736.5 467.5 L737.6 469.0 L737.7 471.0 M709.0 457.3 L712.4 457.5 L714.1 460.0 L717.9 464.0 L720.6 467.6 L724.2 469.7 L727.1 469.8 L727.0 471.0 M709.8 457.0 L709.7 462.0 L712.9 463.9 L715.9 468.1 L717.3 471.0 M760.4 471.7 L760.3 468.6 L763.6 468.9 L766.7 468.8 L768.3 468.0 L770.5 467.1 M775.5 467.5 L776.9 466.4 L776.1 469.0 M678.2 446.2 L678.3 448.9 L680.9 450.6 L681.8 454.0 L678.2 456.2 L677.6 454.6 L676.5 451.3 L677.3 446.8 M704.0 437.6 L704.0 442.4" fill="none" stroke="#3f003f" stroke-width="2.1" stroke-linejoin="round" stroke-linecap="round"/>
<path d="M509.8 363.9 L513.5 365.7 L520.1 366.4 M495.2 367.6 L500.2 367.6 L499.3 371.6 L498.7 373.6 L499.1 376.8 L498.1 379.2 M518.6 345.0 L522.1 347.7 L525.4 348.9 L526.6 348.9 L530.3 350.1 L529.1 353.6 L525.8 356.5 L527.9 357.8 L527.0 360.0 L528.9 363.0 M520.5 344.2 L523.8 344.0 L525.8 343.2 L527.9 342.0 L527.9 339.5 M525.8 345.7 L526.6 348.9 M531.4 335.6 L533.8 335.8 M542.6 338.0 L543.5 341.5 L543.7 345.2 L538.1 346.9 L541.8 350.6 L540.2 353.8 L535.1 353.8 L533.0 353.8 L529.1 353.6 M527.9 357.8 L532.0 357.5 L535.1 356.3 L539.2 355.1 L543.3 356.3 L541.6 358.5 M541.8 350.6 L544.3 350.1 L548.2 351.1 L552.1 348.9 L559.9 350.1 L562.8 346.4 L561.7 342.7 L561.7 338.0 L560.3 336.8 L553.7 336.8 M548.2 351.1 L548.2 352.6 L547.4 356.3 L551.5 358.0 L556.6 357.0 L560.1 352.6 L558.9 351.6 L552.1 352.6 L548.2 352.6 M560.1 352.6 L568.1 352.1 L571.4 356.3 L571.4 358.8 M559.7 361.2 L564.8 363.2 L570.8 362.5 M547.4 356.3 L552.5 357.5 L556.6 357.0 M541.6 358.5 L546.3 356.3 M552.5 357.5 L553.1 360.2 L553.5 364.9 L551.5 366.4 M556.6 357.0 L559.7 361.2 L560.7 364.9 L559.3 366.7 L556.6 366.7 L555.6 369.1 L553.3 367.6 M555.6 369.1 L556.6 370.6 L555.0 373.1 M556.6 370.1 L559.7 369.1 L566.9 368.1 L567.9 370.1 M566.9 368.1 L571.0 367.4 M559.7 369.1 L560.7 364.9 M545.9 359.8 L552.5 360.0 M572.0 300.8 L575.1 304.5 L574.1 311.9 L570.0 321.8 M538.1 325.5 L539.2 319.3 L538.1 314.4 L543.3 309.4 L550.5 302.0 L555.6 300.8 M562.6 308.7 L561.7 303.3 L556.6 300.8 L566.9 299.6 L573.0 299.6 M598.7 368.6 L602.8 369.6 L605.5 373.1 L605.9 375.3 L609.0 375.3 L613.1 376.0 M587.4 380.7 L589.5 380.2 L595.6 380.0 L600.7 379.2 L604.8 379.0 L604.4 373.6 L605.5 373.1 M600.7 379.2 L598.1 385.9 L593.1 388.6 L589.0 391.3 L586.4 391.1 L586.6 389.1 L587.8 385.9 L587.4 380.7 M593.1 388.6 L594.0 391.6 L589.5 393.3 L591.5 396.0 L589.5 398.7 L585.3 398.5 M594.0 391.6 L600.7 394.5 L603.8 399.0 L609.0 399.2 L612.0 399.5 M604.8 379.0 L606.9 383.4 L607.9 389.6 L611.4 393.3 L613.1 397.0 M601.4 430.3 L607.9 428.3 L611.0 425.4 L620.2 424.1 L627.8 416.7 L626.8 415.0 L619.4 411.1 M620.7 429.8 L622.3 424.1 L627.6 416.7 M624.1 379.0 L630.5 377.3 L636.7 379.7 L638.7 381.0 L638.7 385.9 L638.3 393.3 L640.8 398.2 L642.8 404.4 L640.0 408.8 M638.7 381.0 L645.9 379.0 L651.0 379.0 L657.2 378.5 L660.3 380.2 L666.4 379.7 L659.2 387.1 L657.2 389.6 L655.8 393.3 L650.0 397.0 L640.8 398.2 M666.4 379.7 L668.5 385.9 L666.4 390.8 L666.6 395.8 L659.2 402.4 L657.2 407.4 L656.2 410.6 L654.1 412.3 M692.1 349.6 L688.0 355.1 L682.9 353.8 L677.7 360.0 L678.1 366.2 L669.5 371.1 L664.4 373.6 L666.4 379.7 M693.7 349.6 L699.3 355.1 L700.3 358.8 L710.6 364.9 L720.8 366.2 L729.0 368.4 L742.4 363.5 L748.5 360.5 L754.7 356.1 L759.4 355.8 L755.7 353.1 L751.0 353.1 L752.6 348.2 M693.7 349.6 L702.4 346.4 L714.7 342.7 L722.9 346.4 L733.1 348.9 L739.3 349.6 L747.5 347.2 L752.6 348.2 L759.8 341.5 L765.0 339.5 L772.1 340.8 L776.3 348.4 L783.4 353.1 L790.0 351.9 L787.5 360.0 L782.4 365.4 L781.8 366.7 M768.9 372.3 L773.2 368.6 L776.3 367.9 L780.4 365.4 L781.8 366.7 M772.6 377.8 L775.2 376.5 L777.3 376.0 M666.4 379.7 L672.6 383.4 L677.7 383.4 L675.7 390.8 L674.6 394.5 L679.8 396.5 L685.9 400.2 L694.1 402.2 L696.2 401.9 L702.4 402.2 L712.6 401.4 L715.7 408.1 L713.6 411.8 L716.7 416.2 L721.2 418.5 L722.9 415.5 L730.1 413.8 L735.2 418.0 M677.7 400.0 L681.8 403.2 L688.0 405.1 L694.3 405.6 M694.3 405.6 L695.8 406.1 L697.8 406.9 L701.3 408.8 L703.4 411.8 L702.8 419.2 M695.8 406.1 L694.8 411.8 L696.2 416.7 M702.4 402.2 L702.4 404.9 L697.8 404.9 M702.8 419.2 L703.6 416.7 L705.4 409.3 L709.5 404.4 L712.6 401.4 M715.7 446.3 L717.8 438.9 L715.3 430.3 L713.6 426.6 L718.8 420.7 L721.2 418.5 M718.8 420.7 L720.8 427.8 L727.0 427.1 L730.1 434.0 L723.9 440.2 L723.9 441.9 M722.9 415.5 L727.0 421.7 L732.1 429.1 L734.2 435.2 L731.1 442.6 L728.0 445.1 M723.9 440.2 L730.1 435.7 L734.2 435.2 M719.4 455.0 L722.9 456.2 M509.8 384.7 L511.0 390.8 L506.3 393.3 L503.2 397.0 L495.6 400.5 L495.6 403.7 L503.6 409.3 L515.6 419.2 L521.7 422.9 L525.8 422.9 L538.1 413.0 L544.3 414.3 L562.8 422.9 L562.8 421.7 L564.8 421.7 L564.8 416.7 L589.5 416.7 M495.6 402.7 L486.8 402.7 L486.8 414.3 L478.6 418.5 M495.6 403.7 L488.9 406.9 L488.9 413.0 L486.8 418.5 L501.2 419.7 L502.2 432.8 L488.9 434.5 L479.6 430.8 M530.9 379.7 L530.5 385.9 L528.9 389.6 L533.0 396.5 L534.0 409.3 L538.1 413.0 M537.1 389.1 L534.0 392.1 L533.0 396.5 M564.8 393.1 L564.8 416.7 M544.3 414.3 L544.3 421.7 L541.2 436.5 L543.3 438.9 L545.3 446.8 L547.4 452.0 L552.5 448.8 L558.7 445.1 L561.7 449.5 L562.8 422.9 M558.7 445.1 L558.7 438.9 L562.8 422.9 M521.7 422.9 L521.7 430.3 L514.5 434.5 L512.5 434.0 L509.4 435.7 L502.2 445.1 L503.2 446.3 L507.8 447.6 L507.3 458.7 L507.8 443.9 L515.6 443.9 L520.7 442.1 L521.7 437.7 L533.0 438.9 L541.2 436.5 M502.2 432.8 L489.9 440.2 L488.9 434.5 M489.9 440.2 L485.4 439.7 L479.2 440.7 M489.9 440.2 L493.0 443.9 L497.1 450.3 L498.1 460.1 M486.2 439.7 L487.6 446.3 L492.4 450.8 L490.3 454.2 M497.1 450.3 L496.1 452.5 L493.0 456.2 M513.5 443.9 L514.5 455.0 L516.2 455.7 M515.6 443.9 L519.0 448.8 L519.0 455.5 M520.7 442.1 L520.7 446.3 L519.0 448.8 M522.7 455.5 L531.4 459.9 M531.4 459.9 L533.0 455.0 L537.7 453.7 L540.2 446.3 L543.3 438.9 M533.6 465.3 L536.7 465.6 L546.3 466.1 L551.5 460.9 L562.8 458.7 L570.0 458.7 L577.1 461.9 L583.3 460.6 L587.0 457.9 M543.5 465.6 L544.3 462.4 L546.3 466.1 M551.5 460.9 L552.5 448.8 M546.3 466.1 L549.4 471.0 M536.7 465.6 L536.7 468.5 L532.6 468.5 M561.7 449.5 L570.0 458.7 M589.5 416.7 L592.7 426.6 L588.4 435.7 L585.3 445.1 L583.3 451.3 L586.4 458.7 L587.0 457.9 L597.7 461.1 L599.7 460.6 L603.8 458.9 L612.0 451.3 L602.4 443.9 M588.4 435.7 L591.5 440.2 L598.7 437.7 L600.7 440.2 L599.7 443.9 M599.7 443.9 L602.4 443.9 M597.7 461.1 L597.7 474.7 M583.3 460.6 L585.3 468.5 L583.3 473.5 M574.1 473.5 L575.1 468.5 L577.1 461.9 M577.1 461.9 L581.2 462.4 L583.3 460.6" fill="none" stroke="#3f003f" stroke-width="1.8" stroke-linejoin="round" stroke-linecap="round"/>
</g>
<rect x="144" y="249" width="739" height="222" fill="none" stroke="#3c003c" stroke-width="2"/>
<line x1="328" y1="249" x2="328" y2="471" stroke="#3c003c" stroke-width="2"/>
<line x1="513" y1="249" x2="513" y2="471" stroke="#3c003c" stroke-width="2"/>
<line x1="698" y1="249" x2="698" y2="471" stroke="#3c003c" stroke-width="2"/>
<text class="e" x="418.3" y="209.7" font-size="15.5" textLength="96.7" lengthAdjust="spacingAndGlyphs">NCEP/NCAR</text>
<text class="e" x="524.9" y="209.7" font-size="15.5" textLength="83.1" lengthAdjust="spacingAndGlyphs">Reanalysis</text>
<text class="e" x="243.4" y="233.8" font-size="15.5" textLength="28.6" lengthAdjust="spacingAndGlyphs">Sea</text>
<text class="e" x="281.2" y="233.8" font-size="15.5" textLength="40.1" lengthAdjust="spacingAndGlyphs">Level</text>
<text class="e" x="332.8" y="233.8" font-size="15.5" textLength="68.7" lengthAdjust="spacingAndGlyphs">Pressure</text>
<text class="e" x="414" y="233.8" font-size="15.5" textLength="38.0" lengthAdjust="spacingAndGlyphs">(mb)</text>
<text class="e" x="463.7" y="233.8" font-size="15.5" textLength="83.8" lengthAdjust="spacingAndGlyphs">Composite</text>
<text class="e" x="556.7" y="233.8" font-size="15.5" textLength="67.3" lengthAdjust="spacingAndGlyphs">Anomaly</text>
<text class="e" x="635" y="233.8" font-size="15.5" textLength="96.6" lengthAdjust="spacingAndGlyphs">1981−2010</text>
<text class="e" x="742.6" y="233.8" font-size="15.5" textLength="41.9" lengthAdjust="spacingAndGlyphs">climo</text>
<text x="120.0" y="476.2" font-size="13.5" textLength="15" lengthAdjust="spacingAndGlyphs">EQ</text>
<line x1="140" y1="471.5" x2="144" y2="471.5" stroke="#000" stroke-width="1"/>
<text x="113.0" y="451.5" font-size="13.5" textLength="22" lengthAdjust="spacingAndGlyphs">10N</text>
<line x1="140" y1="447.5" x2="144" y2="447.5" stroke="#000" stroke-width="1"/>
<text x="113.0" y="426.9" font-size="13.5" textLength="22" lengthAdjust="spacingAndGlyphs">20N</text>
<line x1="140" y1="422.5" x2="144" y2="422.5" stroke="#000" stroke-width="1"/>
<text x="113.0" y="402.2" font-size="13.5" textLength="22" lengthAdjust="spacingAndGlyphs">30N</text>
<line x1="140" y1="397.5" x2="144" y2="397.5" stroke="#000" stroke-width="1"/>
<text x="113.0" y="377.5" font-size="13.5" textLength="22" lengthAdjust="spacingAndGlyphs">40N</text>
<line x1="140" y1="373.5" x2="144" y2="373.5" stroke="#000" stroke-width="1"/>
<text x="113.0" y="352.9" font-size="13.5" textLength="22" lengthAdjust="spacingAndGlyphs">50N</text>
<line x1="140" y1="348.5" x2="144" y2="348.5" stroke="#000" stroke-width="1"/>
<text x="113.0" y="328.2" font-size="13.5" textLength="22" lengthAdjust="spacingAndGlyphs">60N</text>
<line x1="140" y1="323.5" x2="144" y2="323.5" stroke="#000" stroke-width="1"/>
<text x="113.0" y="303.5" font-size="13.5" textLength="22" lengthAdjust="spacingAndGlyphs">70N</text>
<line x1="140" y1="299.5" x2="144" y2="299.5" stroke="#000" stroke-width="1"/>
<text x="113.0" y="278.9" font-size="13.5" textLength="22" lengthAdjust="spacingAndGlyphs">80N</text>
<line x1="140" y1="274.5" x2="144" y2="274.5" stroke="#000" stroke-width="1"/>
<text x="113.0" y="254.2" font-size="13.5" textLength="22" lengthAdjust="spacingAndGlyphs">90N</text>
<line x1="140" y1="249.5" x2="144" y2="249.5" stroke="#000" stroke-width="1"/>
<text x="144.5" y="488.8" font-size="15" text-anchor="middle" textLength="20" lengthAdjust="spacingAndGlyphs">180</text>
<line x1="144.5" y1="471" x2="144.5" y2="476" stroke="#000" stroke-width="1"/>
<text x="267.7" y="488.8" font-size="15" text-anchor="middle" textLength="30" lengthAdjust="spacingAndGlyphs">120W</text>
<line x1="267.5" y1="471" x2="267.5" y2="476" stroke="#000" stroke-width="1"/>
<text x="390.8" y="488.8" font-size="15" text-anchor="middle" textLength="22" lengthAdjust="spacingAndGlyphs">60W</text>
<line x1="390.5" y1="471" x2="390.5" y2="476" stroke="#000" stroke-width="1"/>
<text x="514.0" y="488.8" font-size="15" text-anchor="middle" textLength="6" lengthAdjust="spacingAndGlyphs">0</text>
<line x1="513.5" y1="471" x2="513.5" y2="476" stroke="#000" stroke-width="1"/>
<text x="637.2" y="488.8" font-size="15" text-anchor="middle" textLength="21" lengthAdjust="spacingAndGlyphs">60E</text>
<line x1="636.5" y1="471" x2="636.5" y2="476" stroke="#000" stroke-width="1"/>
<text x="760.3" y="488.8" font-size="15" text-anchor="middle" textLength="29" lengthAdjust="spacingAndGlyphs">120E</text>
<line x1="759.5" y1="471" x2="759.5" y2="476" stroke="#000" stroke-width="1"/>
<text x="883.5" y="488.8" font-size="15" text-anchor="middle" textLength="20" lengthAdjust="spacingAndGlyphs">180</text>
<line x1="883.5" y1="471" x2="883.5" y2="476" stroke="#000" stroke-width="1"/>
<text class="e" x="152.3" y="513" font-size="16.5" textLength="27.7" lengthAdjust="spacingAndGlyphs">Sep</text>
<text class="e" x="193.3" y="513" font-size="16.5" textLength="3.4" lengthAdjust="spacingAndGlyphs">:</text>
<text class="e" x="206.7" y="513" font-size="16.5" textLength="463.6" lengthAdjust="spacingAndGlyphs">2010,2010,2015,2015,2004,2004,2003,1969,1969,2013</text>
<text class="e" x="682.7" y="513" font-size="16.5" textLength="46.7" lengthAdjust="spacingAndGlyphs">minus</text>
<text class="e" x="742.5" y="513" font-size="16.5" textLength="131.1" lengthAdjust="spacingAndGlyphs">1997,2006,1959</text>
<rect x="592" y="250" width="290" height="20" fill="#fff"/>
<text class="" x="613.3" y="262.6" font-size="11.5" textLength="76.4" lengthAdjust="spacingAndGlyphs">NOAA/ESRL</text>
<text class="" x="697.7" y="262.6" font-size="11.5" textLength="54.9" lengthAdjust="spacingAndGlyphs">Physical</text>
<text class="" x="760.6" y="262.6" font-size="11.5" textLength="59.7" lengthAdjust="spacingAndGlyphs">Sciences</text>
<text class="" x="828.4" y="262.6" font-size="11.5" textLength="50.0" lengthAdjust="spacingAndGlyphs">Division</text>
<polygon points="96,616 143.0,607.0 143.0,624.0" fill="#500050" stroke="#000" stroke-width="2"/>
<polygon points="865,616 817,607.0 817,624.0" fill="#ff0000" stroke="#000" stroke-width="2"/>
<rect x="143.0" y="607.0" width="48.1" height="17.0" fill="#780078" stroke="#000" stroke-width="2"/>
<rect x="191.1" y="607.0" width="48.1" height="17.0" fill="#c800c8" stroke="#000" stroke-width="2"/>
<rect x="239.3" y="607.0" width="48.1" height="17.0" fill="#7800dc" stroke="#000" stroke-width="2"/>
<rect x="287.4" y="607.0" width="48.1" height="17.0" fill="#2800e6" stroke="#000" stroke-width="2"/>
<rect x="335.6" y="607.0" width="48.1" height="17.0" fill="#0064c8" stroke="#000" stroke-width="2"/>
<rect x="383.7" y="607.0" width="48.1" height="17.0" fill="#00ffff" stroke="#000" stroke-width="2"/>
<rect x="431.8" y="607.0" width="48.1" height="17.0" fill="#ffffff" stroke="#000" stroke-width="2"/>
<rect x="480.0" y="607.0" width="48.1" height="17.0" fill="#ffffff" stroke="#000" stroke-width="2"/>
<rect x="528.1" y="607.0" width="48.1" height="17.0" fill="#3cdc00" stroke="#000" stroke-width="2"/>
<rect x="576.3" y="607.0" width="48.1" height="17.0" fill="#c8e600" stroke="#000" stroke-width="2"/>
<rect x="624.4" y="607.0" width="48.1" height="17.0" fill="#ffe100" stroke="#000" stroke-width="2"/>
<rect x="672.5" y="607.0" width="48.1" height="17.0" fill="#ffe100" stroke="#000" stroke-width="2"/>
<rect x="720.7" y="607.0" width="48.1" height="17.0" fill="#ffa000" stroke="#000" stroke-width="2"/>
<rect x="768.8" y="607.0" width="48.1" height="17.0" fill="#ff3c00" stroke="#000" stroke-width="2"/>
<text x="143.5" y="641.2" font-size="16" text-anchor="middle" textLength="21" lengthAdjust="spacingAndGlyphs">−7</text>
<text x="239.8" y="641.2" font-size="16" text-anchor="middle" textLength="21" lengthAdjust="spacingAndGlyphs">−5</text>
<text x="336.1" y="641.2" font-size="16" text-anchor="middle" textLength="21" lengthAdjust="spacingAndGlyphs">−3</text>
<text x="432.3" y="641.2" font-size="16" text-anchor="middle" textLength="21" lengthAdjust="spacingAndGlyphs">−1</text>
<text x="528.6" y="641.2" font-size="16" text-anchor="middle" textLength="6" lengthAdjust="spacingAndGlyphs">1</text>
<text x="624.9" y="641.2" font-size="16" text-anchor="middle" textLength="9" lengthAdjust="spacingAndGlyphs">3</text>
<text x="721.2" y="641.2" font-size="16" text-anchor="middle" textLength="9" lengthAdjust="spacingAndGlyphs">5</text>
<text x="817.5" y="641.2" font-size="16" text-anchor="middle" textLength="9" lengthAdjust="spacingAndGlyphs">7</text>
</svg></body></html>
